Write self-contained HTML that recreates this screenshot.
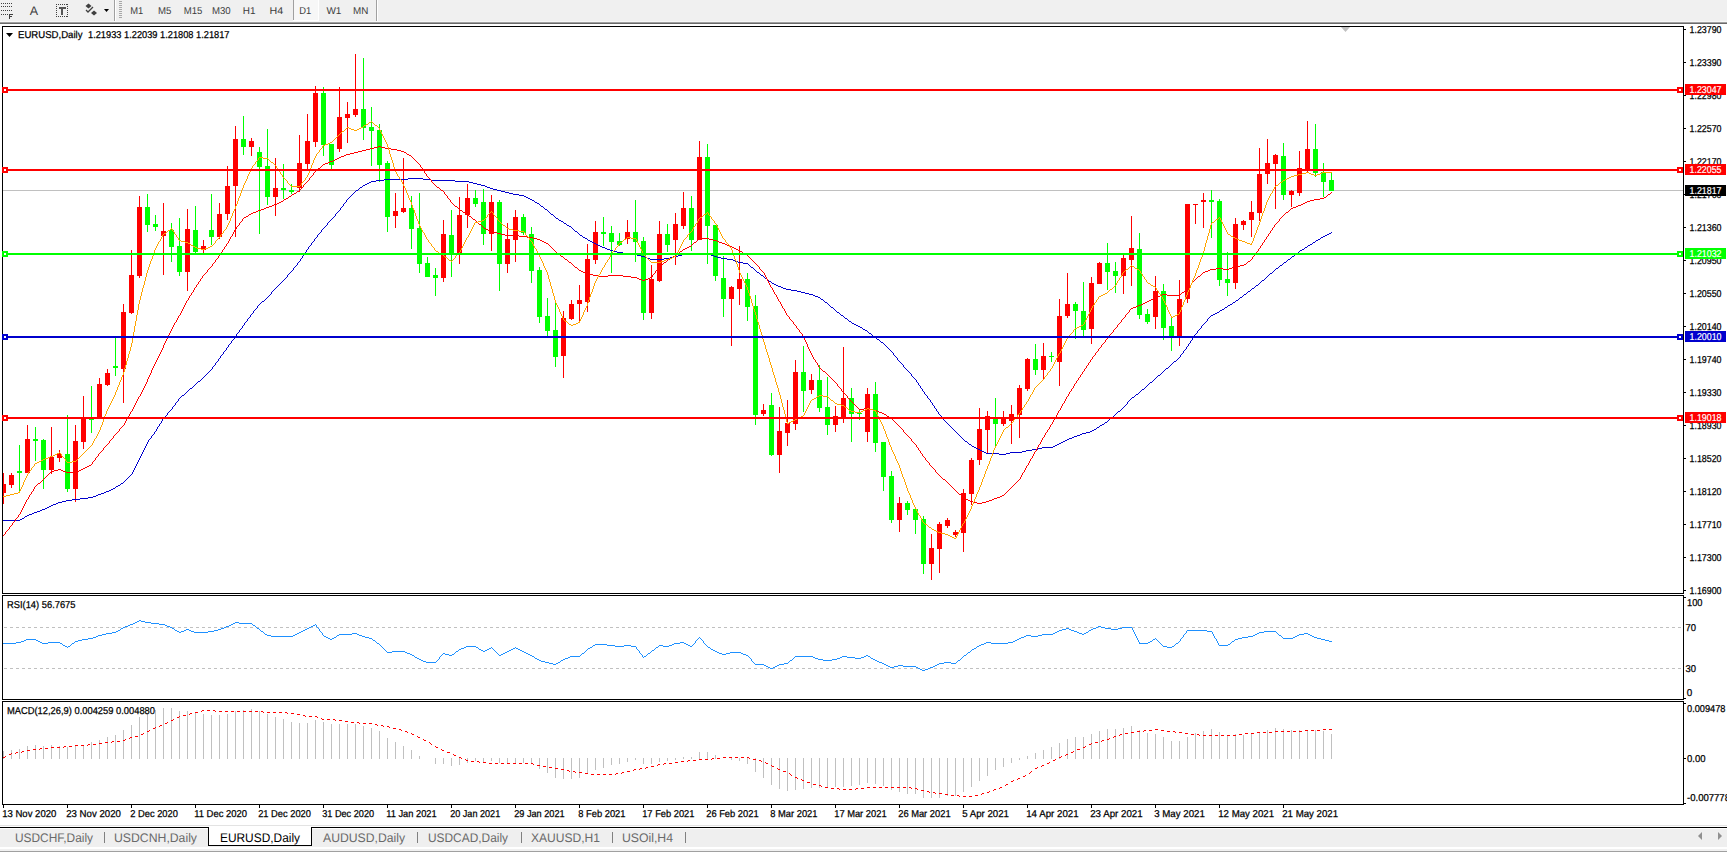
<!DOCTYPE html>
<html><head><meta charset="utf-8"><style>
html,body{margin:0;padding:0;background:#fff;}
body{width:1727px;height:852px;overflow:hidden;position:relative;}
svg{position:absolute;left:0;top:0;display:block;}
text{font-family:"Liberation Sans", sans-serif;text-rendering:geometricPrecision;}
</style></head><body>
<svg width="1727" height="852" viewBox="0 0 1727 852">
<rect x="0" y="0" width="1727" height="852" fill="#ffffff"/>
<rect x="0" y="0" width="1727" height="22" fill="#f0f0f0"/>
<rect x="0" y="21" width="1727" height="1" fill="#f7f7f7"/>
<rect x="0" y="22" width="1727" height="1" fill="#a0a0a0"/>
<rect x="0" y="23" width="1727" height="1" fill="#6a6a6a"/>
<rect x="1" y="3" width="1" height="1" fill="#404040"/>
<rect x="3" y="3" width="1" height="1" fill="#404040"/>
<rect x="5" y="3" width="1" height="1" fill="#404040"/>
<rect x="7" y="3" width="1" height="1" fill="#404040"/>
<rect x="9" y="3" width="1" height="1" fill="#404040"/>
<rect x="11" y="3" width="1" height="1" fill="#404040"/>
<rect x="1" y="6" width="1" height="1" fill="#404040"/>
<rect x="3" y="6" width="1" height="1" fill="#404040"/>
<rect x="5" y="6" width="1" height="1" fill="#404040"/>
<rect x="7" y="6" width="1" height="1" fill="#404040"/>
<rect x="9" y="6" width="1" height="1" fill="#404040"/>
<rect x="11" y="6" width="1" height="1" fill="#404040"/>
<rect x="1" y="10" width="1" height="1" fill="#404040"/>
<rect x="3" y="10" width="1" height="1" fill="#404040"/>
<rect x="5" y="10" width="1" height="1" fill="#404040"/>
<rect x="7" y="10" width="1" height="1" fill="#404040"/>
<rect x="9" y="10" width="1" height="1" fill="#404040"/>
<rect x="11" y="10" width="1" height="1" fill="#404040"/>
<rect x="1" y="14" width="1" height="1" fill="#404040"/>
<rect x="3" y="14" width="1" height="1" fill="#404040"/>
<rect x="5" y="14" width="1" height="1" fill="#404040"/>
<rect x="7" y="14" width="1" height="1" fill="#404040"/>
<rect x="9" y="14" width="1" height="5" fill="#404040"/>
<rect x="9" y="14" width="4" height="1" fill="#404040"/>
<rect x="9" y="16" width="3" height="1" fill="#404040"/>
<text x="33.8" y="15" font-size="12.5" fill="#404040" text-anchor="middle">A</text>
<rect x="56" y="4" width="1" height="1" fill="#404040"/>
<rect x="56" y="16" width="1" height="1" fill="#404040"/>
<rect x="58" y="4" width="1" height="1" fill="#404040"/>
<rect x="58" y="16" width="1" height="1" fill="#404040"/>
<rect x="60" y="4" width="1" height="1" fill="#404040"/>
<rect x="60" y="16" width="1" height="1" fill="#404040"/>
<rect x="62" y="4" width="1" height="1" fill="#404040"/>
<rect x="62" y="16" width="1" height="1" fill="#404040"/>
<rect x="64" y="4" width="1" height="1" fill="#404040"/>
<rect x="64" y="16" width="1" height="1" fill="#404040"/>
<rect x="66" y="4" width="1" height="1" fill="#404040"/>
<rect x="66" y="16" width="1" height="1" fill="#404040"/>
<rect x="56" y="4" width="1" height="1" fill="#404040"/>
<rect x="67" y="4" width="1" height="1" fill="#404040"/>
<rect x="56" y="6" width="1" height="1" fill="#404040"/>
<rect x="67" y="6" width="1" height="1" fill="#404040"/>
<rect x="56" y="8" width="1" height="1" fill="#404040"/>
<rect x="67" y="8" width="1" height="1" fill="#404040"/>
<rect x="56" y="10" width="1" height="1" fill="#404040"/>
<rect x="67" y="10" width="1" height="1" fill="#404040"/>
<rect x="56" y="12" width="1" height="1" fill="#404040"/>
<rect x="67" y="12" width="1" height="1" fill="#404040"/>
<rect x="56" y="14" width="1" height="1" fill="#404040"/>
<rect x="67" y="14" width="1" height="1" fill="#404040"/>
<rect x="56" y="16" width="1" height="1" fill="#404040"/>
<rect x="67" y="16" width="1" height="1" fill="#404040"/>
<rect x="59" y="7" width="7" height="2" fill="#555"/>
<rect x="61" y="7" width="2" height="8" fill="#555"/>
<path d="M85.5,6 L88.5,3.5 L91.5,6 L88.5,8.5 Z" fill="#404040"/>
<path d="M91,13 L94,10.5 L97,13 L94,15.5 Z" fill="#404040"/>
<path d="M86,10 L88,12 L93,7" stroke="#404040" stroke-width="1.3" fill="none"/>
<path d="M104,9 L109,9 L106.5,12 Z" fill="#000"/>
<rect x="114" y="0" width="1" height="21" fill="#a0a0a0"/>
<rect x="115" y="0" width="1" height="21" fill="#ffffff"/>
<rect x="119" y="1" width="3" height="1" fill="#a8a8a8"/>
<rect x="119" y="3" width="3" height="1" fill="#a8a8a8"/>
<rect x="119" y="5" width="3" height="1" fill="#a8a8a8"/>
<rect x="119" y="7" width="3" height="1" fill="#a8a8a8"/>
<rect x="119" y="9" width="3" height="1" fill="#a8a8a8"/>
<rect x="119" y="11" width="3" height="1" fill="#a8a8a8"/>
<rect x="119" y="13" width="3" height="1" fill="#a8a8a8"/>
<rect x="119" y="15" width="3" height="1" fill="#a8a8a8"/>
<rect x="119" y="17" width="3" height="1" fill="#a8a8a8"/>
<rect x="294" y="0" width="24" height="20" fill="#f7f7f7"/>
<rect x="293" y="0" width="1" height="20" fill="#a0a0a0"/>
<rect x="293" y="20" width="26" height="1" fill="#ffffff"/>
<rect x="318" y="0" width="1" height="21" fill="#ffffff"/>
<rect x="376" y="0" width="1" height="21" fill="#a0a0a0"/>
<rect x="377" y="0" width="1" height="21" fill="#ffffff"/>
<text x="130.20000000000002" y="14.1" font-size="10" fill="#3c3c3c" textLength="13.0" lengthAdjust="spacingAndGlyphs">M1</text>
<text x="158.1" y="14.1" font-size="10" fill="#3c3c3c" textLength="13.4" lengthAdjust="spacingAndGlyphs">M5</text>
<text x="183.70000000000002" y="14.1" font-size="10" fill="#3c3c3c" textLength="18.6" lengthAdjust="spacingAndGlyphs">M15</text>
<text x="212.0" y="14.1" font-size="10" fill="#3c3c3c" textLength="18.7" lengthAdjust="spacingAndGlyphs">M30</text>
<text x="242.8" y="14.1" font-size="10" fill="#3c3c3c" textLength="12.7" lengthAdjust="spacingAndGlyphs">H1</text>
<text x="269.59999999999997" y="14.1" font-size="10" fill="#3c3c3c" textLength="13.7" lengthAdjust="spacingAndGlyphs">H4</text>
<text x="299.2" y="14.1" font-size="10" fill="#3c3c3c" textLength="12.0" lengthAdjust="spacingAndGlyphs">D1</text>
<text x="326.4" y="14.1" font-size="10" fill="#3c3c3c" textLength="15.0" lengthAdjust="spacingAndGlyphs">W1</text>
<text x="353.0" y="14.1" font-size="10" fill="#3c3c3c" textLength="15.3" lengthAdjust="spacingAndGlyphs">MN</text>
<rect x="2" y="26" width="1682" height="1" fill="#000"/>
<rect x="2" y="593" width="1682" height="1" fill="#000"/>
<rect x="2" y="26" width="1" height="568" fill="#000"/>
<rect x="1683" y="26" width="1" height="568" fill="#000"/>
<rect x="2" y="595" width="1682" height="1" fill="#000"/>
<rect x="2" y="699" width="1682" height="1" fill="#000"/>
<rect x="2" y="595" width="1" height="105" fill="#000"/>
<rect x="1683" y="595" width="1" height="105" fill="#000"/>
<rect x="2" y="701" width="1682" height="1" fill="#000"/>
<rect x="2" y="804" width="1682" height="1" fill="#000"/>
<rect x="2" y="701" width="1" height="104" fill="#000"/>
<rect x="1683" y="701" width="1" height="104" fill="#000"/>
<defs><clipPath id="cm"><rect x="3" y="27" width="1680" height="566"/></clipPath><clipPath id="cr"><rect x="3" y="596" width="1680" height="103"/></clipPath><clipPath id="cd"><rect x="3" y="702" width="1680" height="102"/></clipPath></defs>
<g clip-path="url(#cm)">
<rect x="3" y="190" width="1680" height="1" fill="#c0c0c0"/>
<path d="M1341,27 L1350,27 L1345.5,32 Z" fill="#c0c0c0"/>
<g shape-rendering="crispEdges">
<rect x="3" y="473" width="1" height="31" fill="#ff0000"/>
<rect x="1" y="484" width="5" height="9" fill="#ff0000"/>
<rect x="11" y="473" width="1" height="15" fill="#ff0000"/>
<rect x="9" y="475" width="5" height="10" fill="#ff0000"/>
<rect x="19" y="445" width="1" height="46" fill="#00ff00"/>
<rect x="17" y="471" width="5" height="2" fill="#00ff00"/>
<rect x="27" y="425" width="1" height="48" fill="#ff0000"/>
<rect x="25" y="439" width="5" height="34" fill="#ff0000"/>
<rect x="35" y="427" width="1" height="34" fill="#00ff00"/>
<rect x="33" y="439" width="5" height="2" fill="#00ff00"/>
<rect x="43" y="439" width="1" height="50" fill="#00ff00"/>
<rect x="41" y="440" width="5" height="30" fill="#00ff00"/>
<rect x="51" y="427" width="1" height="47" fill="#ff0000"/>
<rect x="49" y="457" width="5" height="13" fill="#ff0000"/>
<rect x="59" y="450" width="1" height="12" fill="#ff0000"/>
<rect x="57" y="454" width="5" height="4" fill="#ff0000"/>
<rect x="67" y="415" width="1" height="77" fill="#00ff00"/>
<rect x="65" y="454" width="5" height="35" fill="#00ff00"/>
<rect x="75" y="425" width="1" height="77" fill="#ff0000"/>
<rect x="73" y="441" width="5" height="48" fill="#ff0000"/>
<rect x="83" y="396" width="1" height="53" fill="#ff0000"/>
<rect x="81" y="418" width="5" height="24" fill="#ff0000"/>
<rect x="91" y="386" width="1" height="47" fill="#00ff00"/>
<rect x="89" y="419" width="5" height="1" fill="#00ff00"/>
<rect x="99" y="378" width="1" height="40" fill="#ff0000"/>
<rect x="97" y="384" width="5" height="34" fill="#ff0000"/>
<rect x="107" y="369" width="1" height="17" fill="#ff0000"/>
<rect x="105" y="373" width="5" height="12" fill="#ff0000"/>
<rect x="115" y="337" width="1" height="39" fill="#00ff00"/>
<rect x="113" y="366" width="5" height="2" fill="#00ff00"/>
<rect x="123" y="304" width="1" height="99" fill="#ff0000"/>
<rect x="121" y="312" width="5" height="57" fill="#ff0000"/>
<rect x="131" y="250" width="1" height="64" fill="#ff0000"/>
<rect x="129" y="275" width="5" height="38" fill="#ff0000"/>
<rect x="139" y="196" width="1" height="82" fill="#ff0000"/>
<rect x="137" y="207" width="5" height="69" fill="#ff0000"/>
<rect x="147" y="194" width="1" height="38" fill="#00ff00"/>
<rect x="145" y="207" width="5" height="18" fill="#00ff00"/>
<rect x="155" y="215" width="1" height="16" fill="#00ff00"/>
<rect x="153" y="224" width="5" height="3" fill="#00ff00"/>
<rect x="163" y="203" width="1" height="72" fill="#ff0000"/>
<rect x="161" y="231" width="5" height="5" fill="#ff0000"/>
<rect x="171" y="223" width="1" height="39" fill="#00ff00"/>
<rect x="169" y="230" width="5" height="17" fill="#00ff00"/>
<rect x="179" y="218" width="1" height="58" fill="#00ff00"/>
<rect x="177" y="246" width="5" height="26" fill="#00ff00"/>
<rect x="187" y="209" width="1" height="82" fill="#ff0000"/>
<rect x="185" y="229" width="5" height="43" fill="#ff0000"/>
<rect x="195" y="206" width="1" height="47" fill="#00ff00"/>
<rect x="193" y="230" width="5" height="22" fill="#00ff00"/>
<rect x="203" y="240" width="1" height="13" fill="#ff0000"/>
<rect x="201" y="246" width="5" height="4" fill="#ff0000"/>
<rect x="211" y="194" width="1" height="51" fill="#00ff00"/>
<rect x="209" y="230" width="5" height="7" fill="#00ff00"/>
<rect x="219" y="203" width="1" height="36" fill="#ff0000"/>
<rect x="217" y="214" width="5" height="23" fill="#ff0000"/>
<rect x="227" y="166" width="1" height="54" fill="#ff0000"/>
<rect x="225" y="186" width="5" height="28" fill="#ff0000"/>
<rect x="235" y="126" width="1" height="111" fill="#ff0000"/>
<rect x="233" y="139" width="5" height="47" fill="#ff0000"/>
<rect x="243" y="116" width="1" height="39" fill="#00ff00"/>
<rect x="241" y="139" width="5" height="8" fill="#00ff00"/>
<rect x="251" y="138" width="1" height="18" fill="#ff0000"/>
<rect x="249" y="141" width="5" height="6" fill="#ff0000"/>
<rect x="259" y="147" width="1" height="87" fill="#00ff00"/>
<rect x="257" y="152" width="5" height="15" fill="#00ff00"/>
<rect x="267" y="129" width="1" height="76" fill="#00ff00"/>
<rect x="265" y="166" width="5" height="31" fill="#00ff00"/>
<rect x="275" y="158" width="1" height="58" fill="#ff0000"/>
<rect x="273" y="188" width="5" height="9" fill="#ff0000"/>
<rect x="283" y="164" width="1" height="35" fill="#00ff00"/>
<rect x="281" y="188" width="5" height="2" fill="#00ff00"/>
<rect x="291" y="184" width="1" height="10" fill="#00ff00"/>
<rect x="289" y="190" width="5" height="2" fill="#00ff00"/>
<rect x="299" y="135" width="1" height="57" fill="#ff0000"/>
<rect x="297" y="163" width="5" height="25" fill="#ff0000"/>
<rect x="307" y="114" width="1" height="56" fill="#ff0000"/>
<rect x="305" y="141" width="5" height="23" fill="#ff0000"/>
<rect x="315" y="86" width="1" height="61" fill="#ff0000"/>
<rect x="313" y="93" width="5" height="49" fill="#ff0000"/>
<rect x="323" y="87" width="1" height="69" fill="#00ff00"/>
<rect x="321" y="93" width="5" height="52" fill="#00ff00"/>
<rect x="331" y="144" width="1" height="25" fill="#00ff00"/>
<rect x="329" y="144" width="5" height="21" fill="#00ff00"/>
<rect x="339" y="87" width="1" height="65" fill="#ff0000"/>
<rect x="337" y="117" width="5" height="32" fill="#ff0000"/>
<rect x="347" y="102" width="1" height="41" fill="#ff0000"/>
<rect x="345" y="114" width="5" height="4" fill="#ff0000"/>
<rect x="355" y="54" width="1" height="63" fill="#ff0000"/>
<rect x="353" y="109" width="5" height="6" fill="#ff0000"/>
<rect x="363" y="58" width="1" height="82" fill="#00ff00"/>
<rect x="361" y="109" width="5" height="19" fill="#00ff00"/>
<rect x="371" y="107" width="1" height="59" fill="#00ff00"/>
<rect x="369" y="127" width="5" height="4" fill="#00ff00"/>
<rect x="379" y="124" width="1" height="58" fill="#00ff00"/>
<rect x="377" y="130" width="5" height="35" fill="#00ff00"/>
<rect x="387" y="161" width="1" height="71" fill="#00ff00"/>
<rect x="385" y="163" width="5" height="54" fill="#00ff00"/>
<rect x="395" y="193" width="1" height="35" fill="#ff0000"/>
<rect x="393" y="211" width="5" height="5" fill="#ff0000"/>
<rect x="403" y="158" width="1" height="55" fill="#ff0000"/>
<rect x="401" y="208" width="5" height="4" fill="#ff0000"/>
<rect x="411" y="196" width="1" height="53" fill="#00ff00"/>
<rect x="409" y="208" width="5" height="21" fill="#00ff00"/>
<rect x="419" y="193" width="1" height="80" fill="#00ff00"/>
<rect x="417" y="228" width="5" height="36" fill="#00ff00"/>
<rect x="427" y="257" width="1" height="20" fill="#00ff00"/>
<rect x="425" y="263" width="5" height="14" fill="#00ff00"/>
<rect x="435" y="268" width="1" height="28" fill="#00ff00"/>
<rect x="433" y="275" width="5" height="3" fill="#00ff00"/>
<rect x="443" y="220" width="1" height="62" fill="#ff0000"/>
<rect x="441" y="234" width="5" height="44" fill="#ff0000"/>
<rect x="451" y="210" width="1" height="67" fill="#00ff00"/>
<rect x="449" y="235" width="5" height="19" fill="#00ff00"/>
<rect x="459" y="197" width="1" height="67" fill="#ff0000"/>
<rect x="457" y="215" width="5" height="39" fill="#ff0000"/>
<rect x="467" y="184" width="1" height="44" fill="#ff0000"/>
<rect x="465" y="198" width="5" height="17" fill="#ff0000"/>
<rect x="475" y="190" width="1" height="17" fill="#00ff00"/>
<rect x="473" y="198" width="5" height="6" fill="#00ff00"/>
<rect x="483" y="189" width="1" height="56" fill="#00ff00"/>
<rect x="481" y="202" width="5" height="32" fill="#00ff00"/>
<rect x="491" y="195" width="1" height="56" fill="#ff0000"/>
<rect x="489" y="202" width="5" height="32" fill="#ff0000"/>
<rect x="499" y="200" width="1" height="91" fill="#00ff00"/>
<rect x="497" y="202" width="5" height="62" fill="#00ff00"/>
<rect x="507" y="223" width="1" height="50" fill="#ff0000"/>
<rect x="505" y="239" width="5" height="25" fill="#ff0000"/>
<rect x="515" y="210" width="1" height="52" fill="#ff0000"/>
<rect x="513" y="217" width="5" height="23" fill="#ff0000"/>
<rect x="523" y="214" width="1" height="21" fill="#00ff00"/>
<rect x="521" y="217" width="5" height="16" fill="#00ff00"/>
<rect x="531" y="227" width="1" height="56" fill="#00ff00"/>
<rect x="529" y="234" width="5" height="37" fill="#00ff00"/>
<rect x="539" y="267" width="1" height="56" fill="#00ff00"/>
<rect x="537" y="270" width="5" height="47" fill="#00ff00"/>
<rect x="547" y="298" width="1" height="38" fill="#00ff00"/>
<rect x="545" y="316" width="5" height="15" fill="#00ff00"/>
<rect x="555" y="303" width="1" height="64" fill="#00ff00"/>
<rect x="553" y="330" width="5" height="27" fill="#00ff00"/>
<rect x="563" y="311" width="1" height="67" fill="#ff0000"/>
<rect x="561" y="318" width="5" height="38" fill="#ff0000"/>
<rect x="571" y="300" width="1" height="20" fill="#ff0000"/>
<rect x="569" y="304" width="5" height="15" fill="#ff0000"/>
<rect x="579" y="285" width="1" height="37" fill="#ff0000"/>
<rect x="577" y="300" width="5" height="4" fill="#ff0000"/>
<rect x="587" y="244" width="1" height="68" fill="#ff0000"/>
<rect x="585" y="259" width="5" height="43" fill="#ff0000"/>
<rect x="595" y="221" width="1" height="43" fill="#ff0000"/>
<rect x="593" y="232" width="5" height="28" fill="#ff0000"/>
<rect x="603" y="217" width="1" height="29" fill="#00ff00"/>
<rect x="601" y="232" width="5" height="2" fill="#00ff00"/>
<rect x="611" y="226" width="1" height="47" fill="#00ff00"/>
<rect x="609" y="233" width="5" height="9" fill="#00ff00"/>
<rect x="619" y="233" width="1" height="13" fill="#00ff00"/>
<rect x="617" y="241" width="5" height="4" fill="#00ff00"/>
<rect x="627" y="220" width="1" height="24" fill="#ff0000"/>
<rect x="625" y="232" width="5" height="7" fill="#ff0000"/>
<rect x="635" y="200" width="1" height="62" fill="#00ff00"/>
<rect x="633" y="232" width="5" height="10" fill="#00ff00"/>
<rect x="643" y="237" width="1" height="83" fill="#00ff00"/>
<rect x="641" y="241" width="5" height="72" fill="#00ff00"/>
<rect x="651" y="265" width="1" height="54" fill="#ff0000"/>
<rect x="649" y="279" width="5" height="34" fill="#ff0000"/>
<rect x="659" y="221" width="1" height="61" fill="#ff0000"/>
<rect x="657" y="234" width="5" height="47" fill="#ff0000"/>
<rect x="667" y="224" width="1" height="28" fill="#00ff00"/>
<rect x="665" y="234" width="5" height="11" fill="#00ff00"/>
<rect x="675" y="213" width="1" height="52" fill="#ff0000"/>
<rect x="673" y="224" width="5" height="16" fill="#ff0000"/>
<rect x="683" y="192" width="1" height="37" fill="#ff0000"/>
<rect x="681" y="208" width="5" height="18" fill="#ff0000"/>
<rect x="691" y="196" width="1" height="55" fill="#00ff00"/>
<rect x="689" y="208" width="5" height="32" fill="#00ff00"/>
<rect x="699" y="141" width="1" height="99" fill="#ff0000"/>
<rect x="697" y="157" width="5" height="83" fill="#ff0000"/>
<rect x="707" y="144" width="1" height="120" fill="#00ff00"/>
<rect x="705" y="157" width="5" height="69" fill="#00ff00"/>
<rect x="715" y="225" width="1" height="56" fill="#00ff00"/>
<rect x="713" y="225" width="5" height="51" fill="#00ff00"/>
<rect x="723" y="256" width="1" height="61" fill="#00ff00"/>
<rect x="721" y="278" width="5" height="21" fill="#00ff00"/>
<rect x="731" y="286" width="1" height="60" fill="#ff0000"/>
<rect x="729" y="287" width="5" height="12" fill="#ff0000"/>
<rect x="739" y="246" width="1" height="59" fill="#ff0000"/>
<rect x="737" y="279" width="5" height="10" fill="#ff0000"/>
<rect x="747" y="273" width="1" height="48" fill="#00ff00"/>
<rect x="745" y="279" width="5" height="28" fill="#00ff00"/>
<rect x="755" y="295" width="1" height="130" fill="#00ff00"/>
<rect x="753" y="306" width="5" height="109" fill="#00ff00"/>
<rect x="763" y="404" width="1" height="12" fill="#ff0000"/>
<rect x="761" y="410" width="5" height="4" fill="#ff0000"/>
<rect x="771" y="393" width="1" height="63" fill="#00ff00"/>
<rect x="769" y="405" width="5" height="50" fill="#00ff00"/>
<rect x="779" y="407" width="1" height="66" fill="#ff0000"/>
<rect x="777" y="431" width="5" height="24" fill="#ff0000"/>
<rect x="787" y="400" width="1" height="46" fill="#ff0000"/>
<rect x="785" y="423" width="5" height="10" fill="#ff0000"/>
<rect x="795" y="360" width="1" height="70" fill="#ff0000"/>
<rect x="793" y="372" width="5" height="52" fill="#ff0000"/>
<rect x="803" y="346" width="1" height="66" fill="#00ff00"/>
<rect x="801" y="372" width="5" height="19" fill="#00ff00"/>
<rect x="811" y="374" width="1" height="20" fill="#ff0000"/>
<rect x="809" y="380" width="5" height="10" fill="#ff0000"/>
<rect x="819" y="365" width="1" height="47" fill="#00ff00"/>
<rect x="817" y="380" width="5" height="28" fill="#00ff00"/>
<rect x="827" y="377" width="1" height="58" fill="#00ff00"/>
<rect x="825" y="407" width="5" height="18" fill="#00ff00"/>
<rect x="835" y="406" width="1" height="26" fill="#ff0000"/>
<rect x="833" y="416" width="5" height="9" fill="#ff0000"/>
<rect x="843" y="347" width="1" height="76" fill="#ff0000"/>
<rect x="841" y="398" width="5" height="20" fill="#ff0000"/>
<rect x="851" y="388" width="1" height="54" fill="#00ff00"/>
<rect x="849" y="398" width="5" height="16" fill="#00ff00"/>
<rect x="859" y="410" width="1" height="10" fill="#00ff00"/>
<rect x="857" y="413" width="5" height="1" fill="#00ff00"/>
<rect x="867" y="388" width="1" height="54" fill="#ff0000"/>
<rect x="865" y="394" width="5" height="38" fill="#ff0000"/>
<rect x="875" y="382" width="1" height="70" fill="#00ff00"/>
<rect x="873" y="394" width="5" height="49" fill="#00ff00"/>
<rect x="883" y="442" width="1" height="49" fill="#00ff00"/>
<rect x="881" y="442" width="5" height="35" fill="#00ff00"/>
<rect x="891" y="471" width="1" height="52" fill="#00ff00"/>
<rect x="889" y="476" width="5" height="44" fill="#00ff00"/>
<rect x="899" y="497" width="1" height="35" fill="#ff0000"/>
<rect x="897" y="503" width="5" height="17" fill="#ff0000"/>
<rect x="907" y="501" width="1" height="14" fill="#00ff00"/>
<rect x="905" y="503" width="5" height="7" fill="#00ff00"/>
<rect x="915" y="508" width="1" height="26" fill="#00ff00"/>
<rect x="913" y="509" width="5" height="11" fill="#00ff00"/>
<rect x="923" y="516" width="1" height="58" fill="#00ff00"/>
<rect x="921" y="519" width="5" height="45" fill="#00ff00"/>
<rect x="931" y="534" width="1" height="46" fill="#ff0000"/>
<rect x="929" y="548" width="5" height="16" fill="#ff0000"/>
<rect x="939" y="522" width="1" height="51" fill="#ff0000"/>
<rect x="937" y="524" width="5" height="25" fill="#ff0000"/>
<rect x="947" y="518" width="1" height="10" fill="#ff0000"/>
<rect x="945" y="520" width="5" height="6" fill="#ff0000"/>
<rect x="955" y="530" width="1" height="7" fill="#ff0000"/>
<rect x="953" y="532" width="5" height="3" fill="#ff0000"/>
<rect x="963" y="489" width="1" height="63" fill="#ff0000"/>
<rect x="961" y="493" width="5" height="40" fill="#ff0000"/>
<rect x="971" y="458" width="1" height="47" fill="#ff0000"/>
<rect x="969" y="460" width="5" height="34" fill="#ff0000"/>
<rect x="979" y="408" width="1" height="57" fill="#ff0000"/>
<rect x="977" y="429" width="5" height="31" fill="#ff0000"/>
<rect x="987" y="411" width="1" height="43" fill="#ff0000"/>
<rect x="985" y="416" width="5" height="14" fill="#ff0000"/>
<rect x="995" y="398" width="1" height="48" fill="#00ff00"/>
<rect x="993" y="419" width="5" height="5" fill="#00ff00"/>
<rect x="1003" y="411" width="1" height="15" fill="#ff0000"/>
<rect x="1001" y="418" width="5" height="6" fill="#ff0000"/>
<rect x="1011" y="405" width="1" height="39" fill="#ff0000"/>
<rect x="1009" y="414" width="5" height="7" fill="#ff0000"/>
<rect x="1019" y="385" width="1" height="53" fill="#ff0000"/>
<rect x="1017" y="388" width="5" height="27" fill="#ff0000"/>
<rect x="1027" y="358" width="1" height="33" fill="#ff0000"/>
<rect x="1025" y="359" width="5" height="30" fill="#ff0000"/>
<rect x="1035" y="344" width="1" height="31" fill="#00ff00"/>
<rect x="1033" y="359" width="5" height="11" fill="#00ff00"/>
<rect x="1043" y="343" width="1" height="37" fill="#ff0000"/>
<rect x="1041" y="356" width="5" height="14" fill="#ff0000"/>
<rect x="1051" y="352" width="1" height="10" fill="#00ff00"/>
<rect x="1049" y="356" width="5" height="1" fill="#00ff00"/>
<rect x="1059" y="299" width="1" height="87" fill="#ff0000"/>
<rect x="1057" y="316" width="5" height="46" fill="#ff0000"/>
<rect x="1067" y="273" width="1" height="45" fill="#ff0000"/>
<rect x="1065" y="304" width="5" height="12" fill="#ff0000"/>
<rect x="1075" y="302" width="1" height="37" fill="#00ff00"/>
<rect x="1073" y="304" width="5" height="7" fill="#00ff00"/>
<rect x="1083" y="282" width="1" height="54" fill="#00ff00"/>
<rect x="1081" y="311" width="5" height="19" fill="#00ff00"/>
<rect x="1091" y="277" width="1" height="67" fill="#ff0000"/>
<rect x="1089" y="283" width="5" height="46" fill="#ff0000"/>
<rect x="1099" y="262" width="1" height="22" fill="#ff0000"/>
<rect x="1097" y="263" width="5" height="21" fill="#ff0000"/>
<rect x="1107" y="243" width="1" height="47" fill="#00ff00"/>
<rect x="1105" y="263" width="5" height="9" fill="#00ff00"/>
<rect x="1115" y="262" width="1" height="31" fill="#00ff00"/>
<rect x="1113" y="271" width="5" height="5" fill="#00ff00"/>
<rect x="1123" y="255" width="1" height="39" fill="#ff0000"/>
<rect x="1121" y="258" width="5" height="18" fill="#ff0000"/>
<rect x="1131" y="216" width="1" height="70" fill="#ff0000"/>
<rect x="1129" y="248" width="5" height="12" fill="#ff0000"/>
<rect x="1139" y="233" width="1" height="86" fill="#00ff00"/>
<rect x="1137" y="249" width="5" height="66" fill="#00ff00"/>
<rect x="1147" y="309" width="1" height="15" fill="#00ff00"/>
<rect x="1145" y="314" width="5" height="8" fill="#00ff00"/>
<rect x="1155" y="276" width="1" height="53" fill="#ff0000"/>
<rect x="1153" y="291" width="5" height="26" fill="#ff0000"/>
<rect x="1163" y="284" width="1" height="56" fill="#00ff00"/>
<rect x="1161" y="291" width="5" height="37" fill="#00ff00"/>
<rect x="1171" y="318" width="1" height="33" fill="#00ff00"/>
<rect x="1169" y="326" width="5" height="10" fill="#00ff00"/>
<rect x="1179" y="280" width="1" height="66" fill="#ff0000"/>
<rect x="1177" y="299" width="5" height="37" fill="#ff0000"/>
<rect x="1187" y="204" width="1" height="99" fill="#ff0000"/>
<rect x="1185" y="204" width="5" height="95" fill="#ff0000"/>
<rect x="1195" y="204" width="1" height="20" fill="#ff0000"/>
<rect x="1193" y="204" width="5" height="1" fill="#ff0000"/>
<rect x="1203" y="193" width="1" height="35" fill="#ff0000"/>
<rect x="1201" y="200" width="5" height="2" fill="#ff0000"/>
<rect x="1211" y="190" width="1" height="48" fill="#00ff00"/>
<rect x="1209" y="200" width="5" height="2" fill="#00ff00"/>
<rect x="1219" y="199" width="1" height="87" fill="#00ff00"/>
<rect x="1217" y="201" width="5" height="79" fill="#00ff00"/>
<rect x="1227" y="252" width="1" height="44" fill="#00ff00"/>
<rect x="1225" y="279" width="5" height="4" fill="#00ff00"/>
<rect x="1235" y="218" width="1" height="71" fill="#ff0000"/>
<rect x="1233" y="224" width="5" height="59" fill="#ff0000"/>
<rect x="1243" y="220" width="1" height="10" fill="#ff0000"/>
<rect x="1241" y="221" width="5" height="4" fill="#ff0000"/>
<rect x="1251" y="201" width="1" height="36" fill="#ff0000"/>
<rect x="1249" y="212" width="5" height="8" fill="#ff0000"/>
<rect x="1259" y="148" width="1" height="73" fill="#ff0000"/>
<rect x="1257" y="174" width="5" height="39" fill="#ff0000"/>
<rect x="1267" y="139" width="1" height="45" fill="#ff0000"/>
<rect x="1265" y="163" width="5" height="11" fill="#ff0000"/>
<rect x="1275" y="154" width="1" height="55" fill="#ff0000"/>
<rect x="1273" y="155" width="5" height="9" fill="#ff0000"/>
<rect x="1283" y="143" width="1" height="57" fill="#00ff00"/>
<rect x="1281" y="156" width="5" height="39" fill="#00ff00"/>
<rect x="1291" y="190" width="1" height="17" fill="#ff0000"/>
<rect x="1289" y="191" width="5" height="4" fill="#ff0000"/>
<rect x="1299" y="151" width="1" height="45" fill="#ff0000"/>
<rect x="1297" y="168" width="5" height="25" fill="#ff0000"/>
<rect x="1307" y="121" width="1" height="51" fill="#ff0000"/>
<rect x="1305" y="149" width="5" height="21" fill="#ff0000"/>
<rect x="1315" y="124" width="1" height="53" fill="#00ff00"/>
<rect x="1313" y="149" width="5" height="24" fill="#00ff00"/>
<rect x="1323" y="163" width="1" height="34" fill="#00ff00"/>
<rect x="1321" y="172" width="5" height="10" fill="#00ff00"/>
<rect x="1331" y="172" width="1" height="19" fill="#00ff00"/>
<rect x="1329" y="180" width="5" height="11" fill="#00ff00"/>
</g>
<path d="M408 178h15v1h-15zM384 179h24v1h-24zM423 179h8v1h-8zM376 180h8v1h-8zM431 180h24v1h-24zM371 181h5v1h-5zM455 181h14v1h-14zM369 182h2v1h-2zM469 182h4v1h-4zM367 183h2v1h-2zM473 183h4v1h-4zM365 184h2v1h-2zM477 184h4v1h-4zM363 185h2v1h-2zM481 185h4v1h-4zM362 186h1v1h-1zM485 186h2v1h-2zM360 187h2v1h-2zM487 187h3v1h-3zM359 188h1v1h-1zM490 188h3v1h-3zM358 189h1v1h-1zM493 189h4v1h-4zM356 190h2v1h-2zM497 190h4v1h-4zM355 191h1v1h-1zM501 191h4v1h-4zM354 192h1v1h-1zM505 192h4v1h-4zM353 193h1v1h-1zM509 193h4v1h-4zM352 194h1v1h-1zM513 194h6v1h-6zM351 195h1v1h-1zM519 195h5v1h-5zM350 196h1v1h-1zM524 196h2v1h-2zM349 197h1v1h-1zM526 197h2v1h-2zM348 198h1v1h-1zM528 198h2v1h-2zM347 199h1v1h-1zM530 199h2v1h-2zM532 200h2v1h-2zM346 200h1v2h-1zM534 201h1v1h-1zM345 202h1v1h-1zM535 202h2v1h-2zM344 203h1v1h-1zM537 203h2v1h-2zM539 204h1v1h-1zM343 204h1v2h-1zM540 205h1v1h-1zM342 206h1v1h-1zM541 206h2v1h-2zM341 207h1v1h-1zM543 207h1v1h-1zM544 208h1v1h-1zM340 208h1v2h-1zM545 209h2v1h-2zM339 210h1v1h-1zM547 210h1v1h-1zM338 211h1v1h-1zM548 211h1v1h-1zM337 212h1v1h-1zM549 212h1v1h-1zM336 213h1v1h-1zM550 213h1v1h-1zM551 214h2v1h-2zM335 214h1v2h-1zM553 215h1v1h-1zM334 216h1v1h-1zM554 216h1v1h-1zM333 217h1v1h-1zM555 217h1v1h-1zM332 218h1v1h-1zM556 218h2v1h-2zM331 219h1v1h-1zM558 219h1v1h-1zM330 220h1v1h-1zM559 220h2v1h-2zM329 221h1v1h-1zM561 221h2v1h-2zM328 222h1v1h-1zM563 222h1v1h-1zM564 223h2v1h-2zM327 223h1v2h-1zM566 224h1v1h-1zM326 225h1v1h-1zM567 225h2v1h-2zM325 226h1v1h-1zM569 226h2v1h-2zM324 227h1v1h-1zM571 227h1v1h-1zM323 228h1v1h-1zM572 228h1v1h-1zM322 229h1v1h-1zM573 229h1v1h-1zM574 230h1v1h-1zM321 230h1v2h-1zM575 231h2v1h-2zM320 232h1v1h-1zM577 232h1v1h-1zM1331 232h1v1h-1zM319 233h1v1h-1zM578 233h1v1h-1zM1329 233h2v1h-2zM318 234h1v1h-1zM579 234h1v1h-1zM1327 234h2v1h-2zM580 235h2v1h-2zM1325 235h2v1h-2zM317 235h1v2h-1zM582 236h1v1h-1zM1323 236h2v1h-2zM316 237h1v1h-1zM583 237h2v1h-2zM1321 237h2v1h-2zM315 238h1v1h-1zM585 238h2v1h-2zM1320 238h1v1h-1zM587 239h1v1h-1zM1318 239h2v1h-2zM314 239h1v2h-1zM588 240h2v1h-2zM1316 240h2v1h-2zM313 241h1v1h-1zM590 241h2v1h-2zM1315 241h1v1h-1zM312 242h1v1h-1zM592 242h2v1h-2zM1313 242h2v1h-2zM594 243h2v1h-2zM1312 243h1v1h-1zM311 243h1v2h-1zM596 244h2v1h-2zM1310 244h2v1h-2zM310 245h1v1h-1zM598 245h2v1h-2zM1308 245h2v1h-2zM309 246h1v1h-1zM600 246h2v1h-2zM1307 246h1v1h-1zM602 247h3v1h-3zM1305 247h2v1h-2zM308 247h1v2h-1zM605 248h2v1h-2zM1304 248h1v1h-1zM307 249h1v1h-1zM607 249h3v1h-3zM1302 249h2v1h-2zM610 250h3v1h-3zM1300 250h2v1h-2zM306 250h1v2h-1zM613 251h4v1h-4zM1299 251h1v1h-1zM305 252h1v1h-1zM617 252h6v1h-6zM1298 252h1v1h-1zM623 253h8v1h-8zM688 253h21v1h-21zM1296 253h2v1h-2zM304 253h1v2h-1zM631 254h6v1h-6zM682 254h6v1h-6zM709 254h2v1h-2zM1295 254h1v1h-1zM303 255h1v1h-1zM637 255h4v1h-4zM678 255h4v1h-4zM711 255h3v1h-3zM1294 255h1v1h-1zM641 256h4v1h-4zM674 256h4v1h-4zM714 256h3v1h-3zM1292 256h2v1h-2zM302 256h1v2h-1zM645 257h2v1h-2zM670 257h4v1h-4zM717 257h4v1h-4zM1291 257h1v1h-1zM301 258h1v1h-1zM647 258h3v1h-3zM664 258h6v1h-6zM721 258h6v1h-6zM1290 258h1v1h-1zM650 259h14v1h-14zM727 259h6v1h-6zM1288 259h2v1h-2zM300 259h1v2h-1zM733 260h2v1h-2zM1287 260h1v1h-1zM299 261h1v1h-1zM735 261h3v1h-3zM1286 261h1v1h-1zM298 262h1v1h-1zM738 262h5v1h-5zM1284 262h2v1h-2zM743 263h5v1h-5zM1283 263h1v1h-1zM297 263h1v2h-1zM748 264h1v1h-1zM1282 264h1v1h-1zM296 265h1v1h-1zM749 265h1v1h-1zM1280 265h2v1h-2zM295 266h1v1h-1zM750 266h1v1h-1zM1279 266h1v1h-1zM294 267h1v1h-1zM751 267h2v1h-2zM1278 267h1v1h-1zM753 268h1v1h-1zM1276 268h2v1h-2zM293 268h1v2h-1zM754 269h1v1h-1zM1275 269h1v1h-1zM292 270h1v1h-1zM755 270h1v1h-1zM1274 270h1v1h-1zM291 271h1v1h-1zM756 271h1v1h-1zM1273 271h1v1h-1zM290 272h1v1h-1zM757 272h2v1h-2zM1272 272h1v1h-1zM289 273h1v1h-1zM759 273h1v1h-1zM1270 273h2v1h-2zM288 274h1v1h-1zM760 274h1v1h-1zM1269 274h1v1h-1zM761 275h2v1h-2zM1268 275h1v1h-1zM287 275h1v2h-1zM763 276h1v1h-1zM1267 276h1v1h-1zM286 277h1v1h-1zM764 277h1v1h-1zM1266 277h1v1h-1zM285 278h1v1h-1zM765 278h2v1h-2zM1265 278h1v1h-1zM284 279h1v1h-1zM767 279h1v1h-1zM1264 279h1v1h-1zM283 280h1v1h-1zM768 280h1v1h-1zM1262 280h2v1h-2zM282 281h1v1h-1zM769 281h2v1h-2zM1261 281h1v1h-1zM281 282h1v1h-1zM771 282h1v1h-1zM1260 282h1v1h-1zM280 283h1v1h-1zM772 283h2v1h-2zM1259 283h1v1h-1zM279 284h1v1h-1zM774 284h2v1h-2zM1258 284h1v1h-1zM278 285h1v1h-1zM776 285h2v1h-2zM1256 285h2v1h-2zM277 286h1v1h-1zM778 286h3v1h-3zM1255 286h1v1h-1zM276 287h1v1h-1zM781 287h2v1h-2zM1254 287h1v1h-1zM275 288h1v1h-1zM783 288h3v1h-3zM1252 288h2v1h-2zM274 289h1v1h-1zM786 289h5v1h-5zM1251 289h1v1h-1zM273 290h1v1h-1zM791 290h6v1h-6zM1250 290h1v1h-1zM272 291h1v1h-1zM797 291h4v1h-4zM1248 291h2v1h-2zM801 292h4v1h-4zM1247 292h1v1h-1zM271 292h1v2h-1zM805 293h4v1h-4zM1246 293h1v1h-1zM270 294h1v1h-1zM809 294h4v1h-4zM1244 294h2v1h-2zM269 295h1v1h-1zM813 295h2v1h-2zM1243 295h1v1h-1zM268 296h1v1h-1zM815 296h3v1h-3zM1242 296h1v1h-1zM267 297h1v1h-1zM818 297h2v1h-2zM1240 297h2v1h-2zM266 298h1v1h-1zM820 298h1v1h-1zM1239 298h1v1h-1zM265 299h1v1h-1zM821 299h2v1h-2zM1238 299h1v1h-1zM264 300h1v1h-1zM823 300h1v1h-1zM1236 300h2v1h-2zM262 301h2v1h-2zM824 301h1v1h-1zM1235 301h1v1h-1zM261 302h1v1h-1zM825 302h2v1h-2zM1233 302h2v1h-2zM260 303h1v1h-1zM827 303h1v1h-1zM1232 303h1v1h-1zM259 304h1v1h-1zM828 304h1v1h-1zM1230 304h2v1h-2zM258 305h1v1h-1zM829 305h1v1h-1zM1228 305h2v1h-2zM830 306h1v1h-1zM1227 306h1v1h-1zM257 306h1v2h-1zM831 307h2v1h-2zM1225 307h2v1h-2zM256 308h1v1h-1zM833 308h1v1h-1zM1224 308h1v1h-1zM255 309h1v1h-1zM834 309h1v1h-1zM1222 309h2v1h-2zM254 310h1v1h-1zM835 310h1v1h-1zM1220 310h2v1h-2zM836 311h1v1h-1zM1219 311h1v1h-1zM253 311h1v2h-1zM837 312h2v1h-2zM1217 312h2v1h-2zM252 313h1v1h-1zM839 313h1v1h-1zM1215 313h2v1h-2zM251 314h1v1h-1zM840 314h1v1h-1zM1213 314h2v1h-2zM841 315h2v1h-2zM1211 315h2v1h-2zM250 315h1v2h-1zM843 316h1v1h-1zM1210 316h1v1h-1zM249 317h1v1h-1zM844 317h1v1h-1zM1209 317h1v1h-1zM248 318h1v1h-1zM845 318h2v1h-2zM1208 318h1v1h-1zM847 319h1v1h-1zM247 319h1v2h-1zM1207 319h1v2h-1zM848 320h1v1h-1zM246 321h1v1h-1zM849 321h2v1h-2zM1206 321h1v1h-1zM245 322h1v1h-1zM851 322h1v1h-1zM1205 322h1v1h-1zM852 323h2v1h-2zM1204 323h1v1h-1zM244 323h1v2h-1zM854 324h2v1h-2zM1203 324h1v1h-1zM243 325h1v1h-1zM856 325h2v1h-2zM1202 325h1v1h-1zM858 326h2v1h-2zM242 326h1v2h-1zM1201 326h1v2h-1zM860 327h2v1h-2zM241 328h1v1h-1zM862 328h1v1h-1zM1200 328h1v1h-1zM240 329h1v1h-1zM863 329h2v1h-2zM1199 329h1v1h-1zM865 330h2v1h-2zM1198 330h1v1h-1zM239 330h1v2h-1zM867 331h1v1h-1zM1197 331h1v2h-1zM238 332h1v1h-1zM868 332h1v1h-1zM237 333h1v1h-1zM869 333h2v1h-2zM1196 333h1v1h-1zM871 334h1v1h-1zM1195 334h1v1h-1zM236 334h1v2h-1zM872 335h1v1h-1zM1194 335h1v2h-1zM235 336h1v1h-1zM873 336h2v1h-2zM875 337h1v1h-1zM1193 337h1v1h-1zM234 337h1v2h-1zM876 338h1v1h-1zM1192 338h1v2h-1zM233 339h1v1h-1zM877 339h2v1h-2zM232 340h1v1h-1zM879 340h1v1h-1zM1191 340h1v1h-1zM880 341h1v1h-1zM231 341h1v2h-1zM1190 341h1v2h-1zM881 342h2v1h-2zM230 343h1v1h-1zM883 343h1v1h-1zM1189 343h1v1h-1zM229 344h1v1h-1zM884 344h1v1h-1zM1188 344h1v2h-1zM885 345h1v1h-1zM228 345h1v2h-1zM886 346h1v1h-1zM1187 346h1v1h-1zM227 347h1v1h-1zM887 347h1v1h-1zM1186 347h1v2h-1zM888 348h1v1h-1zM226 348h1v2h-1zM889 349h1v1h-1zM1185 349h1v1h-1zM225 350h1v1h-1zM890 350h1v1h-1zM1184 350h1v1h-1zM224 351h1v1h-1zM891 351h1v1h-1zM1183 351h1v2h-1zM892 352h1v1h-1zM223 352h1v2h-1zM1182 353h1v1h-1zM893 353h1v2h-1zM222 354h1v1h-1zM1181 354h1v1h-1zM221 355h1v1h-1zM894 355h1v1h-1zM1180 355h1v2h-1zM895 356h1v1h-1zM220 356h1v2h-1zM896 357h1v1h-1zM1179 357h1v1h-1zM219 358h1v1h-1zM1178 358h1v1h-1zM897 358h1v2h-1zM1177 359h1v1h-1zM218 359h1v2h-1zM898 360h1v1h-1zM1176 360h1v1h-1zM217 361h1v1h-1zM899 361h1v1h-1zM1174 361h2v1h-2zM216 362h1v1h-1zM900 362h1v1h-1zM1173 362h1v1h-1zM901 363h1v1h-1zM1172 363h1v1h-1zM215 363h1v2h-1zM902 364h1v1h-1zM1171 364h1v1h-1zM214 365h1v1h-1zM1170 365h1v1h-1zM903 365h1v2h-1zM213 366h1v1h-1zM1169 366h1v1h-1zM904 367h1v1h-1zM1168 367h1v1h-1zM212 367h1v2h-1zM905 368h1v1h-1zM1166 368h2v1h-2zM211 369h1v1h-1zM906 369h1v1h-1zM1165 369h1v1h-1zM210 370h1v1h-1zM907 370h1v1h-1zM1164 370h1v1h-1zM209 371h1v1h-1zM908 371h1v1h-1zM1163 371h1v1h-1zM208 372h1v1h-1zM909 372h1v1h-1zM1162 372h1v1h-1zM207 373h1v1h-1zM910 373h1v1h-1zM1161 373h1v1h-1zM206 374h1v1h-1zM1160 374h1v1h-1zM911 374h1v2h-1zM205 375h1v1h-1zM1158 375h2v1h-2zM204 376h1v1h-1zM912 376h1v1h-1zM1157 376h1v1h-1zM203 377h1v1h-1zM913 377h1v1h-1zM1156 377h1v1h-1zM202 378h1v1h-1zM914 378h1v1h-1zM1155 378h1v1h-1zM201 379h1v1h-1zM915 379h1v1h-1zM1154 379h1v1h-1zM200 380h1v1h-1zM1153 380h1v1h-1zM916 380h1v2h-1zM198 381h2v1h-2zM1152 381h1v1h-1zM197 382h1v1h-1zM917 382h1v1h-1zM1150 382h2v1h-2zM196 383h1v1h-1zM1149 383h1v1h-1zM918 383h1v2h-1zM195 384h1v1h-1zM1148 384h1v1h-1zM194 385h1v1h-1zM919 385h1v1h-1zM1147 385h1v1h-1zM193 386h1v1h-1zM1146 386h1v1h-1zM920 386h1v2h-1zM192 387h1v1h-1zM1145 387h1v1h-1zM190 388h2v1h-2zM921 388h1v1h-1zM1144 388h1v1h-1zM189 389h1v1h-1zM1142 389h2v1h-2zM922 389h1v2h-1zM188 390h1v1h-1zM1141 390h1v1h-1zM187 391h1v1h-1zM923 391h1v1h-1zM1140 391h1v1h-1zM186 392h1v1h-1zM1139 392h1v1h-1zM924 392h1v2h-1zM185 393h1v1h-1zM1138 393h1v1h-1zM184 394h1v1h-1zM925 394h1v1h-1zM1136 394h2v1h-2zM182 395h2v1h-2zM926 395h1v1h-1zM1135 395h1v1h-1zM181 396h1v1h-1zM1134 396h1v1h-1zM927 396h1v2h-1zM180 397h1v1h-1zM1132 397h2v1h-2zM179 398h1v1h-1zM928 398h1v1h-1zM1131 398h1v1h-1zM929 399h1v1h-1zM1130 399h1v1h-1zM178 399h1v2h-1zM1129 400h1v1h-1zM930 400h1v2h-1zM177 401h1v1h-1zM1128 401h1v1h-1zM176 402h1v1h-1zM931 402h1v1h-1zM1127 402h1v2h-1zM175 403h1v2h-1zM932 403h1v2h-1zM1126 404h1v1h-1zM174 405h1v1h-1zM933 405h1v1h-1zM1125 405h1v1h-1zM173 406h1v1h-1zM1124 406h1v1h-1zM934 406h1v2h-1zM1123 407h1v1h-1zM172 407h1v2h-1zM935 408h1v1h-1zM1122 408h1v1h-1zM171 409h1v1h-1zM1121 409h1v1h-1zM936 409h1v2h-1zM170 410h1v1h-1zM1120 410h1v1h-1zM169 411h1v1h-1zM937 411h1v1h-1zM1118 411h2v1h-2zM168 412h1v1h-1zM1117 412h1v1h-1zM938 412h1v2h-1zM1116 413h1v1h-1zM167 413h1v2h-1zM939 414h1v1h-1zM1115 414h1v1h-1zM166 415h1v1h-1zM940 415h1v1h-1zM1114 415h1v1h-1zM165 416h1v1h-1zM941 416h1v1h-1zM1113 416h1v1h-1zM164 417h1v1h-1zM942 417h1v1h-1zM1112 417h1v1h-1zM163 418h1v1h-1zM1110 418h2v1h-2zM943 418h1v2h-1zM1109 419h1v1h-1zM162 419h1v2h-1zM944 420h1v1h-1zM1108 420h1v1h-1zM945 421h1v1h-1zM1107 421h1v1h-1zM161 421h1v2h-1zM946 422h1v1h-1zM1105 422h2v1h-2zM160 423h1v1h-1zM947 423h1v1h-1zM1104 423h1v1h-1zM948 424h1v1h-1zM1102 424h2v1h-2zM159 424h1v2h-1zM949 425h1v1h-1zM1100 425h2v1h-2zM158 426h1v1h-1zM950 426h1v1h-1zM1099 426h1v1h-1zM951 427h1v1h-1zM1097 427h2v1h-2zM157 427h1v2h-1zM952 428h1v1h-1zM1096 428h1v1h-1zM953 429h1v1h-1zM1094 429h2v1h-2zM156 429h1v2h-1zM954 430h1v1h-1zM1092 430h2v1h-2zM155 431h1v1h-1zM955 431h1v1h-1zM1090 431h2v1h-2zM956 432h1v1h-1zM1086 432h4v1h-4zM154 432h1v2h-1zM957 433h1v1h-1zM1082 433h4v1h-4zM153 434h1v1h-1zM958 434h1v1h-1zM1080 434h2v1h-2zM152 435h1v1h-1zM959 435h1v1h-1zM1077 435h3v1h-3zM960 436h1v1h-1zM1074 436h3v1h-3zM151 436h1v2h-1zM961 437h1v1h-1zM1072 437h2v1h-2zM150 438h1v1h-1zM962 438h1v1h-1zM1069 438h3v1h-3zM149 439h1v1h-1zM963 439h1v1h-1zM1067 439h2v1h-2zM964 440h1v1h-1zM1065 440h2v1h-2zM148 440h1v2h-1zM965 441h2v1h-2zM1063 441h2v1h-2zM967 442h1v1h-1zM1061 442h2v1h-2zM147 442h1v2h-1zM968 443h1v1h-1zM1059 443h2v1h-2zM969 444h2v1h-2zM1057 444h2v1h-2zM146 444h1v2h-1zM971 445h1v1h-1zM1055 445h2v1h-2zM972 446h2v1h-2zM1053 446h2v1h-2zM145 446h1v2h-1zM974 447h2v1h-2zM1042 447h11v1h-11zM976 448h2v1h-2zM1038 448h4v1h-4zM144 448h1v2h-1zM978 449h2v1h-2zM1032 449h6v1h-6zM980 450h2v1h-2zM1026 450h6v1h-6zM143 450h1v2h-1zM982 451h2v1h-2zM1022 451h4v1h-4zM984 452h2v1h-2zM1010 452h12v1h-12zM142 452h1v2h-1zM986 453h13v1h-13zM1006 453h4v1h-4zM999 454h7v1h-7zM141 454h1v2h-1zM140 456h1v2h-1zM139 458h1v2h-1zM138 460h1v2h-1zM137 462h1v2h-1zM136 464h1v2h-1zM135 466h1v2h-1zM134 468h1v2h-1zM133 470h1v2h-1zM132 472h1v2h-1zM131 474h1v1h-1zM130 475h1v1h-1zM129 476h1v1h-1zM128 477h1v1h-1zM127 478h1v1h-1zM126 479h1v1h-1zM125 480h1v1h-1zM124 481h1v1h-1zM123 482h1v1h-1zM121 483h2v1h-2zM120 484h1v1h-1zM118 485h2v1h-2zM116 486h2v1h-2zM115 487h1v1h-1zM113 488h2v1h-2zM111 489h2v1h-2zM109 490h2v1h-2zM106 491h3v1h-3zM104 492h2v1h-2zM101 493h3v1h-3zM98 494h3v1h-3zM96 495h2v1h-2zM93 496h3v1h-3zM88 497h5v1h-5zM80 498h8v1h-8zM72 499h8v1h-8zM66 500h6v1h-6zM62 501h4v1h-4zM58 502h4v1h-4zM56 503h2v1h-2zM53 504h3v1h-3zM51 505h2v1h-2zM49 506h2v1h-2zM47 507h2v1h-2zM45 508h2v1h-2zM42 509h3v1h-3zM40 510h2v1h-2zM37 511h3v1h-3zM34 512h3v1h-3zM32 513h2v1h-2zM29 514h3v1h-3zM27 515h2v1h-2zM25 516h2v1h-2zM24 517h1v1h-1zM22 518h2v1h-2zM20 519h2v1h-2zM3 520h17v1h-17z" fill="#0000cd" shape-rendering="crispEdges"/>
<path d="M378 146h3v1h-3zM374 147h4v1h-4zM381 147h4v1h-4zM370 148h4v1h-4zM385 148h6v1h-6zM366 149h4v1h-4zM391 149h6v1h-6zM362 150h4v1h-4zM397 150h4v1h-4zM358 151h4v1h-4zM401 151h3v1h-3zM354 152h4v1h-4zM404 152h2v1h-2zM350 153h4v1h-4zM406 153h1v1h-1zM346 154h4v1h-4zM407 154h2v1h-2zM344 155h2v1h-2zM409 155h2v1h-2zM341 156h3v1h-3zM411 156h1v1h-1zM339 157h2v1h-2zM412 157h1v1h-1zM337 158h2v1h-2zM413 158h1v1h-1zM335 159h2v1h-2zM414 159h1v1h-1zM333 160h2v1h-2zM415 160h1v1h-1zM330 161h3v1h-3zM416 161h1v1h-1zM328 162h2v1h-2zM417 162h1v1h-1zM325 163h3v1h-3zM418 163h1v1h-1zM323 164h2v1h-2zM419 164h1v1h-1zM322 165h1v1h-1zM420 165h1v2h-1zM321 166h1v1h-1zM320 167h1v1h-1zM421 167h1v1h-1zM318 168h2v1h-2zM422 168h1v2h-1zM317 169h1v1h-1zM316 170h1v1h-1zM423 170h1v1h-1zM315 171h1v1h-1zM424 171h1v2h-1zM314 172h1v1h-1zM425 173h1v1h-1zM313 173h1v2h-1zM426 174h1v2h-1zM312 175h1v1h-1zM311 176h1v1h-1zM427 176h1v1h-1zM310 177h1v1h-1zM428 177h1v1h-1zM429 178h1v1h-1zM309 178h1v2h-1zM430 179h1v1h-1zM308 180h1v1h-1zM431 180h1v2h-1zM307 181h1v1h-1zM306 182h1v1h-1zM432 182h1v1h-1zM305 183h1v1h-1zM433 183h1v1h-1zM304 184h1v1h-1zM434 184h1v1h-1zM435 185h1v1h-1zM303 185h1v2h-1zM436 186h1v1h-1zM302 187h1v1h-1zM437 187h2v1h-2zM301 188h1v1h-1zM439 188h1v1h-1zM300 189h1v1h-1zM440 189h1v1h-1zM299 190h1v1h-1zM441 190h2v1h-2zM297 191h2v1h-2zM443 191h1v1h-1zM296 192h1v1h-1zM1331 192h1v1h-1zM444 192h1v2h-1zM294 193h2v1h-2zM1330 193h1v1h-1zM292 194h2v1h-2zM445 194h1v1h-1zM1328 194h2v1h-2zM291 195h1v1h-1zM446 195h1v1h-1zM1327 195h1v1h-1zM289 196h2v1h-2zM1326 196h1v1h-1zM447 196h1v2h-1zM288 197h1v1h-1zM1324 197h2v1h-2zM286 198h2v1h-2zM448 198h1v1h-1zM1320 198h4v1h-4zM284 199h2v1h-2zM449 199h1v1h-1zM1314 199h6v1h-6zM283 200h1v1h-1zM1310 200h4v1h-4zM450 200h1v2h-1zM281 201h2v1h-2zM1307 201h3v1h-3zM279 202h2v1h-2zM451 202h1v1h-1zM1305 202h2v1h-2zM277 203h2v1h-2zM452 203h1v1h-1zM1303 203h2v1h-2zM274 204h3v1h-3zM453 204h1v1h-1zM1301 204h2v1h-2zM272 205h2v1h-2zM454 205h1v1h-1zM1298 205h3v1h-3zM269 206h3v1h-3zM455 206h2v1h-2zM1296 206h2v1h-2zM266 207h3v1h-3zM457 207h1v1h-1zM1293 207h3v1h-3zM264 208h2v1h-2zM458 208h1v1h-1zM1291 208h2v1h-2zM261 209h3v1h-3zM459 209h1v1h-1zM1290 209h1v1h-1zM258 210h3v1h-3zM460 210h2v1h-2zM1289 210h1v1h-1zM256 211h2v1h-2zM462 211h1v1h-1zM1288 211h1v1h-1zM253 212h3v1h-3zM463 212h2v1h-2zM1286 212h2v1h-2zM251 213h2v1h-2zM465 213h2v1h-2zM1285 213h1v1h-1zM249 214h2v1h-2zM467 214h1v1h-1zM1284 214h1v1h-1zM248 215h1v1h-1zM468 215h1v1h-1zM1283 215h1v1h-1zM246 216h2v1h-2zM469 216h2v1h-2zM1282 216h1v1h-1zM244 217h2v1h-2zM471 217h1v1h-1zM1281 217h1v1h-1zM243 218h1v1h-1zM472 218h1v1h-1zM1280 218h1v1h-1zM473 219h2v1h-2zM242 219h1v2h-1zM1279 219h1v2h-1zM475 220h1v1h-1zM241 221h1v1h-1zM476 221h1v1h-1zM1278 221h1v1h-1zM240 222h1v1h-1zM477 222h1v1h-1zM1277 222h1v1h-1zM478 223h1v1h-1zM1276 223h1v1h-1zM239 223h1v2h-1zM479 224h2v1h-2zM1275 224h1v1h-1zM238 225h1v1h-1zM481 225h1v1h-1zM1274 225h1v2h-1zM237 226h1v1h-1zM482 226h1v1h-1zM483 227h1v1h-1zM1273 227h1v1h-1zM236 227h1v2h-1zM484 228h2v1h-2zM1272 228h1v2h-1zM235 229h1v1h-1zM486 229h2v1h-2zM488 230h2v1h-2zM1271 230h1v1h-1zM234 230h1v2h-1zM490 231h3v1h-3zM1270 231h1v2h-1zM493 232h4v1h-4zM233 232h1v2h-1zM497 233h4v1h-4zM1269 233h1v1h-1zM501 234h4v1h-4zM232 234h1v2h-1zM1268 234h1v2h-1zM505 235h14v1h-14zM231 236h1v1h-1zM519 236h8v1h-8zM1267 236h1v1h-1zM527 237h6v1h-6zM230 237h1v2h-1zM1266 237h1v2h-1zM533 238h4v1h-4zM699 238h10v1h-10zM537 239h3v1h-3zM698 239h1v1h-1zM709 239h4v1h-4zM1265 239h1v1h-1zM229 239h1v2h-1zM540 240h2v1h-2zM697 240h1v1h-1zM713 240h4v1h-4zM1264 240h1v2h-1zM542 241h2v1h-2zM696 241h1v1h-1zM717 241h2v1h-2zM228 241h1v2h-1zM544 242h2v1h-2zM694 242h2v1h-2zM719 242h3v1h-3zM1263 242h1v1h-1zM227 243h1v1h-1zM546 243h2v1h-2zM693 243h1v1h-1zM722 243h3v1h-3zM1262 243h1v2h-1zM548 244h1v1h-1zM692 244h1v1h-1zM725 244h2v1h-2zM226 244h1v2h-1zM549 245h1v1h-1zM691 245h1v1h-1zM727 245h3v1h-3zM1261 245h1v1h-1zM225 246h1v1h-1zM550 246h1v1h-1zM689 246h2v1h-2zM730 246h2v1h-2zM1260 246h1v2h-1zM551 247h1v1h-1zM687 247h2v1h-2zM732 247h2v1h-2zM224 247h1v2h-1zM552 248h1v1h-1zM685 248h2v1h-2zM734 248h2v1h-2zM1259 248h1v1h-1zM223 249h1v1h-1zM553 249h1v1h-1zM683 249h2v1h-2zM736 249h2v1h-2zM1258 249h1v2h-1zM554 250h1v1h-1zM682 250h1v1h-1zM738 250h2v1h-2zM222 250h1v2h-1zM555 251h1v1h-1zM680 251h2v1h-2zM740 251h2v1h-2zM1257 251h1v1h-1zM221 252h1v1h-1zM556 252h1v1h-1zM679 252h1v1h-1zM742 252h1v1h-1zM1256 252h1v1h-1zM557 253h2v1h-2zM678 253h1v1h-1zM743 253h2v1h-2zM220 253h1v2h-1zM1255 253h1v2h-1zM559 254h1v1h-1zM676 254h2v1h-2zM745 254h2v1h-2zM219 255h1v1h-1zM560 255h1v1h-1zM675 255h1v1h-1zM747 255h1v1h-1zM1254 255h1v1h-1zM561 256h2v1h-2zM673 256h2v1h-2zM748 256h1v1h-1zM1253 256h1v1h-1zM218 256h1v2h-1zM563 257h1v1h-1zM672 257h1v1h-1zM749 257h1v1h-1zM1252 257h1v2h-1zM217 258h1v1h-1zM564 258h1v1h-1zM670 258h2v1h-2zM750 258h1v1h-1zM216 259h1v1h-1zM565 259h2v1h-2zM668 259h2v1h-2zM751 259h1v1h-1zM1251 259h1v1h-1zM567 260h1v1h-1zM667 260h1v1h-1zM752 260h1v1h-1zM1250 260h1v1h-1zM215 260h1v2h-1zM568 261h1v1h-1zM666 261h1v1h-1zM753 261h1v1h-1zM1248 261h2v1h-2zM214 262h1v1h-1zM569 262h2v1h-2zM664 262h2v1h-2zM754 262h1v1h-1zM1247 262h1v1h-1zM213 263h1v1h-1zM571 263h1v1h-1zM663 263h1v1h-1zM755 263h1v1h-1zM1246 263h1v1h-1zM572 264h1v1h-1zM662 264h1v1h-1zM756 264h1v1h-1zM1244 264h2v1h-2zM212 264h1v2h-1zM573 265h1v1h-1zM660 265h2v1h-2zM757 265h1v1h-1zM1240 265h4v1h-4zM211 266h1v1h-1zM574 266h1v1h-1zM659 266h1v1h-1zM758 266h1v1h-1zM1234 266h6v1h-6zM210 267h1v1h-1zM575 267h2v1h-2zM1232 267h2v1h-2zM658 267h1v2h-1zM759 267h1v2h-1zM209 268h1v1h-1zM577 268h1v1h-1zM1216 268h7v1h-7zM1229 268h3v1h-3zM208 269h1v1h-1zM578 269h1v1h-1zM657 269h1v1h-1zM760 269h1v1h-1zM1210 269h6v1h-6zM1223 269h6v1h-6zM579 270h2v1h-2zM656 270h1v1h-1zM761 270h1v1h-1zM1208 270h2v1h-2zM207 270h1v2h-1zM581 271h2v1h-2zM762 271h1v1h-1zM1205 271h3v1h-3zM655 271h1v2h-1zM206 272h1v1h-1zM583 272h3v1h-3zM763 272h1v1h-1zM1203 272h2v1h-2zM205 273h1v1h-1zM586 273h3v1h-3zM654 273h1v1h-1zM1202 273h1v1h-1zM764 273h1v2h-1zM204 274h1v1h-1zM589 274h4v1h-4zM653 274h1v1h-1zM1201 274h1v1h-1zM203 275h1v1h-1zM593 275h6v1h-6zM608 275h15v1h-15zM1200 275h1v1h-1zM652 275h1v2h-1zM765 275h1v2h-1zM599 276h9v1h-9zM623 276h8v1h-8zM1198 276h2v1h-2zM202 276h1v2h-1zM631 277h6v1h-6zM650 277h2v1h-2zM1197 277h1v1h-1zM766 277h1v2h-1zM201 278h1v1h-1zM637 278h2v1h-2zM648 278h2v1h-2zM1196 278h1v1h-1zM639 279h3v1h-3zM645 279h3v1h-3zM1195 279h1v1h-1zM200 279h1v2h-1zM767 279h1v2h-1zM642 280h3v1h-3zM1194 280h1v1h-1zM199 281h1v1h-1zM1193 281h1v1h-1zM768 281h1v2h-1zM1192 282h1v1h-1zM198 282h1v2h-1zM769 283h1v2h-1zM1191 283h1v2h-1zM197 284h1v1h-1zM1190 285h1v1h-1zM196 285h1v2h-1zM770 285h1v2h-1zM1189 286h1v1h-1zM195 287h1v1h-1zM771 287h1v1h-1zM1188 287h1v1h-1zM1187 288h1v1h-1zM194 288h1v2h-1zM772 288h1v2h-1zM1186 289h1v1h-1zM1185 290h1v1h-1zM193 290h1v2h-1zM773 290h1v2h-1zM1184 291h1v1h-1zM192 292h1v1h-1zM1182 292h2v1h-2zM774 292h1v2h-1zM1181 293h1v1h-1zM191 293h1v2h-1zM775 294h1v1h-1zM1162 294h5v1h-5zM1180 294h1v1h-1zM190 295h1v1h-1zM1160 295h2v1h-2zM1167 295h13v1h-13zM776 295h1v2h-1zM1157 296h3v1h-3zM189 296h1v2h-1zM1155 297h2v1h-2zM777 297h1v2h-1zM1153 298h2v1h-2zM188 298h1v2h-1zM1151 299h2v1h-2zM778 299h1v2h-1zM187 300h1v1h-1zM1149 300h2v1h-2zM779 301h1v1h-1zM1147 301h2v1h-2zM186 301h1v2h-1zM1145 302h2v1h-2zM780 302h1v2h-1zM1143 303h2v1h-2zM185 303h1v2h-1zM1141 304h2v1h-2zM781 304h1v2h-1zM1138 305h3v1h-3zM184 305h1v2h-1zM1136 306h2v1h-2zM782 306h1v2h-1zM1133 307h3v1h-3zM183 307h1v2h-1zM783 308h1v1h-1zM1131 308h2v1h-2zM1130 309h1v1h-1zM182 309h1v2h-1zM784 309h1v2h-1zM1129 310h1v2h-1zM181 311h1v2h-1zM785 311h1v2h-1zM1128 312h1v1h-1zM1127 313h1v1h-1zM180 313h1v2h-1zM786 313h1v2h-1zM1126 314h1v1h-1zM179 315h1v1h-1zM787 315h1v1h-1zM1125 315h1v2h-1zM788 316h1v1h-1zM178 316h1v2h-1zM1124 317h1v1h-1zM789 317h1v2h-1zM1123 318h1v1h-1zM177 318h1v2h-1zM790 319h1v1h-1zM1122 319h1v1h-1zM791 320h1v1h-1zM176 320h1v2h-1zM1121 320h1v2h-1zM792 321h1v1h-1zM175 322h1v1h-1zM1120 322h1v1h-1zM793 322h1v2h-1zM1119 323h1v1h-1zM174 323h1v2h-1zM794 324h1v1h-1zM1118 324h1v1h-1zM795 325h1v1h-1zM173 325h1v2h-1zM1117 325h1v2h-1zM796 326h1v2h-1zM1116 327h1v1h-1zM172 327h1v2h-1zM797 328h1v1h-1zM1115 328h1v1h-1zM798 329h1v1h-1zM1114 329h1v1h-1zM171 329h1v2h-1zM799 330h1v2h-1zM1113 330h1v2h-1zM170 331h1v2h-1zM800 332h1v1h-1zM1112 332h1v1h-1zM801 333h1v1h-1zM1111 333h1v1h-1zM169 333h1v2h-1zM1110 334h1v1h-1zM802 334h1v2h-1zM168 335h1v2h-1zM1109 335h1v2h-1zM803 336h1v2h-1zM1108 337h1v1h-1zM167 337h1v2h-1zM1107 338h1v1h-1zM804 338h1v2h-1zM1106 339h1v1h-1zM166 339h1v2h-1zM805 340h1v2h-1zM1105 340h1v2h-1zM165 341h1v2h-1zM1104 342h1v1h-1zM806 342h1v2h-1zM1103 343h1v1h-1zM164 343h1v2h-1zM1102 344h1v1h-1zM807 344h1v3h-1zM1101 345h1v2h-1zM163 345h1v3h-1zM1100 347h1v1h-1zM808 347h1v2h-1zM1099 348h1v1h-1zM162 348h1v2h-1zM809 349h1v2h-1zM1098 349h1v2h-1zM161 350h1v2h-1zM1097 351h1v1h-1zM810 351h1v2h-1zM1096 352h1v1h-1zM160 352h1v2h-1zM811 353h1v2h-1zM1095 353h1v2h-1zM159 354h1v2h-1zM1094 355h1v1h-1zM812 355h1v2h-1zM1093 356h1v1h-1zM158 356h1v2h-1zM813 357h1v2h-1zM1092 357h1v2h-1zM157 358h1v2h-1zM814 359h1v1h-1zM1091 359h1v1h-1zM156 360h1v2h-1zM815 360h1v2h-1zM1090 360h1v2h-1zM816 362h1v1h-1zM1089 362h1v1h-1zM155 362h1v2h-1zM817 363h1v2h-1zM1088 363h1v2h-1zM154 364h1v2h-1zM1087 365h1v1h-1zM818 365h1v2h-1zM153 366h1v2h-1zM1086 366h1v2h-1zM819 367h1v1h-1zM820 368h1v1h-1zM1085 368h1v1h-1zM152 368h1v2h-1zM821 369h1v1h-1zM1084 369h1v2h-1zM822 370h1v1h-1zM151 370h1v3h-1zM823 371h2v1h-2zM1083 371h1v1h-1zM825 372h1v1h-1zM1082 372h1v2h-1zM826 373h1v1h-1zM150 373h1v2h-1zM827 374h1v1h-1zM1081 374h1v1h-1zM828 375h1v1h-1zM149 375h1v2h-1zM1080 375h1v2h-1zM829 376h1v1h-1zM830 377h1v1h-1zM1079 377h1v1h-1zM148 377h1v2h-1zM831 378h1v1h-1zM1078 378h1v2h-1zM832 379h1v1h-1zM147 379h1v3h-1zM833 380h1v1h-1zM1077 380h1v1h-1zM834 381h1v1h-1zM1076 381h1v2h-1zM835 382h1v1h-1zM146 382h1v2h-1zM836 383h1v1h-1zM1075 383h1v1h-1zM145 384h1v2h-1zM837 384h1v2h-1zM1074 384h1v2h-1zM838 386h1v1h-1zM144 386h1v2h-1zM1073 386h1v2h-1zM839 387h1v1h-1zM840 388h1v1h-1zM1072 388h1v1h-1zM143 388h1v2h-1zM841 389h1v2h-1zM1071 389h1v2h-1zM142 390h1v2h-1zM842 391h1v1h-1zM1070 391h1v1h-1zM843 392h1v1h-1zM141 392h1v2h-1zM1069 392h1v2h-1zM844 393h1v1h-1zM845 394h1v1h-1zM140 394h1v2h-1zM1068 394h1v2h-1zM846 395h1v1h-1zM139 396h1v1h-1zM1067 396h1v1h-1zM847 396h1v2h-1zM138 397h1v2h-1zM1066 397h1v2h-1zM848 398h1v1h-1zM849 399h1v1h-1zM137 399h1v2h-1zM1065 399h1v2h-1zM850 400h1v1h-1zM851 401h1v1h-1zM136 401h1v2h-1zM1064 401h1v2h-1zM852 402h1v1h-1zM853 403h1v1h-1zM1063 403h1v1h-1zM135 403h1v2h-1zM854 404h1v1h-1zM1062 404h1v2h-1zM855 405h1v1h-1zM134 405h1v2h-1zM856 406h1v1h-1zM1061 406h1v2h-1zM857 407h1v1h-1zM133 407h1v2h-1zM858 408h1v1h-1zM864 408h5v1h-5zM1060 408h1v2h-1zM859 409h5v1h-5zM869 409h4v1h-4zM132 409h1v2h-1zM873 410h4v1h-4zM1059 410h1v1h-1zM131 411h1v1h-1zM877 411h2v1h-2zM1058 411h1v2h-1zM879 412h3v1h-3zM130 412h1v2h-1zM882 413h2v1h-2zM1057 413h1v2h-1zM884 414h2v1h-2zM129 414h1v2h-1zM886 415h1v1h-1zM1056 415h1v2h-1zM887 416h2v1h-2zM128 416h1v2h-1zM889 417h2v1h-2zM1055 417h1v1h-1zM127 418h1v1h-1zM891 418h1v1h-1zM1054 418h1v2h-1zM892 419h1v1h-1zM126 419h1v2h-1zM893 420h1v1h-1zM1053 420h1v2h-1zM894 421h1v1h-1zM125 421h1v2h-1zM895 422h1v1h-1zM1052 422h1v2h-1zM896 423h1v1h-1zM124 423h1v2h-1zM897 424h1v1h-1zM1051 424h1v1h-1zM123 425h1v1h-1zM898 425h1v1h-1zM1050 425h1v2h-1zM122 426h1v1h-1zM899 426h1v1h-1zM121 427h1v1h-1zM900 427h1v1h-1zM1049 427h1v2h-1zM120 428h1v1h-1zM901 428h1v1h-1zM902 429h1v1h-1zM1048 429h1v1h-1zM119 429h1v2h-1zM903 430h1v2h-1zM1047 430h1v2h-1zM118 431h1v1h-1zM117 432h1v1h-1zM904 432h1v1h-1zM1046 432h1v1h-1zM116 433h1v1h-1zM905 433h1v1h-1zM1045 433h1v2h-1zM115 434h1v1h-1zM906 434h1v1h-1zM114 435h1v1h-1zM907 435h1v1h-1zM1044 435h1v2h-1zM908 436h1v1h-1zM113 436h1v2h-1zM909 437h1v1h-1zM1043 437h1v1h-1zM112 438h1v1h-1zM910 438h1v1h-1zM1042 438h1v2h-1zM111 439h1v1h-1zM911 439h1v2h-1zM110 440h1v1h-1zM1041 440h1v2h-1zM912 441h1v1h-1zM109 441h1v2h-1zM913 442h1v1h-1zM1040 442h1v2h-1zM108 443h1v1h-1zM914 443h1v1h-1zM107 444h1v1h-1zM915 444h1v1h-1zM1039 444h1v1h-1zM106 445h1v1h-1zM916 445h1v2h-1zM1038 445h1v2h-1zM105 446h1v1h-1zM104 447h1v1h-1zM917 447h1v1h-1zM1037 447h1v2h-1zM103 448h1v2h-1zM918 448h1v2h-1zM1036 449h1v2h-1zM102 450h1v1h-1zM919 450h1v1h-1zM101 451h1v1h-1zM1035 451h1v1h-1zM920 451h1v2h-1zM100 452h1v1h-1zM1034 452h1v2h-1zM99 453h1v1h-1zM921 453h1v1h-1zM98 454h1v2h-1zM922 454h1v2h-1zM1033 454h1v2h-1zM97 456h1v1h-1zM923 456h1v1h-1zM1032 456h1v2h-1zM96 457h1v1h-1zM924 457h1v1h-1zM1031 458h1v1h-1zM95 458h1v2h-1zM925 458h1v2h-1zM1030 459h1v2h-1zM94 460h1v1h-1zM926 460h1v1h-1zM93 461h1v1h-1zM927 461h1v1h-1zM1029 461h1v2h-1zM928 462h1v1h-1zM92 462h1v2h-1zM929 463h1v2h-1zM1028 463h1v2h-1zM91 464h1v1h-1zM89 465h2v1h-2zM930 465h1v1h-1zM1027 465h1v1h-1zM87 466h2v1h-2zM931 466h1v1h-1zM1026 466h1v2h-1zM85 467h2v1h-2zM932 467h1v1h-1zM83 468h2v1h-2zM933 468h1v1h-1zM1025 468h1v2h-1zM58 469h3v1h-3zM81 469h2v1h-2zM934 469h1v1h-1zM54 470h4v1h-4zM61 470h2v1h-2zM79 470h2v1h-2zM935 470h1v2h-1zM1024 470h1v2h-1zM51 471h3v1h-3zM63 471h3v1h-3zM77 471h2v1h-2zM50 472h1v1h-1zM66 472h11v1h-11zM936 472h1v1h-1zM1023 472h1v1h-1zM49 473h1v1h-1zM937 473h1v1h-1zM1022 473h1v2h-1zM48 474h1v1h-1zM938 474h1v1h-1zM47 475h1v1h-1zM939 475h1v1h-1zM1021 475h1v2h-1zM46 476h1v1h-1zM940 476h1v1h-1zM45 477h1v1h-1zM941 477h1v1h-1zM1020 477h1v2h-1zM44 478h1v1h-1zM942 478h1v1h-1zM43 479h1v1h-1zM943 479h2v1h-2zM1019 479h1v1h-1zM42 480h1v1h-1zM945 480h1v1h-1zM1018 480h1v1h-1zM41 481h1v1h-1zM946 481h1v1h-1zM1017 481h1v1h-1zM40 482h1v1h-1zM947 482h1v1h-1zM1016 482h1v1h-1zM38 483h2v1h-2zM948 483h1v1h-1zM1015 483h1v1h-1zM37 484h1v1h-1zM949 484h1v1h-1zM1014 484h1v1h-1zM36 485h1v1h-1zM950 485h1v1h-1zM1013 485h1v1h-1zM35 486h1v1h-1zM951 486h1v1h-1zM1012 486h1v1h-1zM952 487h1v1h-1zM1011 487h1v1h-1zM34 487h1v2h-1zM953 488h1v1h-1zM1010 488h1v1h-1zM954 489h1v1h-1zM1009 489h1v1h-1zM33 489h1v2h-1zM955 490h1v1h-1zM1008 490h1v1h-1zM32 491h1v1h-1zM956 491h1v1h-1zM1007 491h1v1h-1zM957 492h1v1h-1zM1006 492h1v1h-1zM31 492h1v2h-1zM958 493h1v1h-1zM1005 493h1v1h-1zM30 494h1v1h-1zM959 494h2v1h-2zM1004 494h1v1h-1zM961 495h1v1h-1zM1002 495h2v1h-2zM29 495h1v2h-1zM962 496h1v1h-1zM1000 496h2v1h-2zM963 497h1v1h-1zM997 497h3v1h-3zM28 497h1v2h-1zM964 498h2v1h-2zM994 498h3v1h-3zM27 499h1v1h-1zM966 499h2v1h-2zM992 499h2v1h-2zM968 500h2v1h-2zM989 500h3v1h-3zM26 500h1v2h-1zM970 501h3v1h-3zM986 501h3v1h-3zM973 502h4v1h-4zM982 502h4v1h-4zM25 502h1v2h-1zM977 503h5v1h-5zM24 504h1v2h-1zM23 506h1v2h-1zM22 508h1v2h-1zM21 510h1v2h-1zM20 512h1v2h-1zM19 514h1v1h-1zM18 515h1v2h-1zM17 517h1v1h-1zM16 518h1v1h-1zM15 519h1v2h-1zM14 521h1v1h-1zM13 522h1v1h-1zM12 523h1v2h-1zM11 525h1v1h-1zM10 526h1v1h-1zM9 527h1v2h-1zM8 529h1v1h-1zM7 530h1v1h-1zM6 531h1v1h-1zM5 532h1v2h-1zM4 534h1v1h-1zM3 535h1v1h-1z" fill="#ff0000" shape-rendering="crispEdges"/>
<path d="M371 121h1v1h-1zM369 122h2v1h-2zM372 122h1v1h-1zM368 123h1v1h-1zM373 123h1v1h-1zM366 124h2v1h-2zM374 124h1v1h-1zM364 125h2v1h-2zM375 125h2v1h-2zM363 126h1v1h-1zM377 126h1v1h-1zM347 127h2v1h-2zM361 127h2v1h-2zM378 127h1v1h-1zM346 128h1v1h-1zM349 128h2v1h-2zM359 128h2v1h-2zM379 128h1v2h-1zM345 129h1v1h-1zM351 129h3v1h-3zM357 129h2v1h-2zM344 130h1v1h-1zM354 130h3v1h-3zM380 130h1v2h-1zM342 131h2v1h-2zM341 132h1v1h-1zM381 132h1v2h-1zM340 133h1v1h-1zM339 134h1v1h-1zM382 134h1v2h-1zM338 135h1v1h-1zM337 136h1v1h-1zM383 136h1v2h-1zM336 137h1v1h-1zM335 138h1v1h-1zM384 138h1v2h-1zM334 139h1v1h-1zM333 140h1v1h-1zM385 140h1v2h-1zM332 141h1v1h-1zM330 142h2v1h-2zM386 142h1v2h-1zM328 143h2v1h-2zM325 144h3v1h-3zM387 144h1v3h-1zM323 145h2v1h-2zM322 146h1v2h-1zM388 147h1v3h-1zM321 148h1v1h-1zM320 149h1v1h-1zM319 150h1v2h-1zM389 150h1v4h-1zM318 152h1v1h-1zM317 153h1v1h-1zM316 154h1v2h-1zM390 154h1v3h-1zM315 156h1v2h-1zM259 157h4v1h-4zM391 157h1v3h-1zM263 158h5v1h-5zM258 158h1v2h-1zM314 158h1v2h-1zM268 159h1v1h-1zM257 160h1v1h-1zM269 160h1v1h-1zM313 160h1v3h-1zM392 160h1v3h-1zM256 161h1v1h-1zM270 161h1v1h-1zM271 162h2v1h-2zM255 162h1v2h-1zM273 163h1v1h-1zM312 163h1v2h-1zM393 163h1v4h-1zM254 164h1v1h-1zM274 164h1v1h-1zM253 165h1v1h-1zM275 165h1v1h-1zM311 165h1v3h-1zM252 166h1v2h-1zM276 166h1v2h-1zM394 167h1v3h-1zM277 168h1v1h-1zM251 168h1v2h-1zM310 168h1v2h-1zM278 169h1v2h-1zM250 170h1v2h-1zM395 170h1v2h-1zM309 170h1v3h-1zM279 171h1v1h-1zM1306 172h3v1h-3zM1322 172h10v1h-10zM249 172h1v2h-1zM280 172h1v2h-1zM396 172h1v2h-1zM1302 173h4v1h-4zM1309 173h2v1h-2zM1320 173h2v1h-2zM308 173h1v2h-1zM281 174h1v1h-1zM1298 174h4v1h-4zM1311 174h3v1h-3zM1317 174h3v1h-3zM248 174h1v2h-1zM397 174h1v2h-1zM1294 175h4v1h-4zM1314 175h3v1h-3zM282 175h1v2h-1zM307 175h1v2h-1zM398 176h1v1h-1zM1291 176h3v1h-3zM247 176h1v3h-1zM283 177h1v1h-1zM306 177h1v1h-1zM1289 177h2v1h-2zM399 177h1v2h-1zM284 178h1v1h-1zM1287 178h2v1h-2zM305 178h1v2h-1zM285 179h1v1h-1zM400 179h1v1h-1zM1285 179h2v1h-2zM246 179h1v2h-1zM286 180h1v1h-1zM304 180h1v1h-1zM1283 180h2v1h-2zM401 180h1v2h-1zM303 181h1v1h-1zM1282 181h1v1h-1zM245 181h1v2h-1zM287 181h1v2h-1zM302 182h1v1h-1zM1280 182h2v1h-2zM402 182h1v2h-1zM288 183h1v1h-1zM1279 183h1v1h-1zM244 183h1v2h-1zM301 183h1v2h-1zM289 184h1v1h-1zM1278 184h1v1h-1zM403 184h1v2h-1zM290 185h1v1h-1zM300 185h1v1h-1zM1276 185h2v1h-2zM243 185h1v3h-1zM291 186h9v1h-9zM1275 186h1v1h-1zM404 186h1v2h-1zM1274 187h1v2h-1zM242 188h1v2h-1zM405 188h1v2h-1zM1273 189h1v2h-1zM241 190h1v3h-1zM406 190h1v3h-1zM1272 191h1v2h-1zM1271 193h1v1h-1zM407 193h1v2h-1zM240 193h1v3h-1zM1270 194h1v2h-1zM408 195h1v3h-1zM239 196h1v2h-1zM1269 196h1v2h-1zM409 198h1v2h-1zM1268 198h1v2h-1zM238 198h1v3h-1zM410 200h1v2h-1zM1267 200h1v2h-1zM237 201h1v3h-1zM411 202h1v3h-1zM1266 202h1v3h-1zM236 204h1v2h-1zM412 205h1v3h-1zM1265 205h1v3h-1zM235 206h1v3h-1zM413 208h1v2h-1zM1264 208h1v3h-1zM234 209h1v2h-1zM414 210h1v3h-1zM491 211h1v1h-1zM233 211h1v2h-1zM1263 211h1v2h-1zM490 212h1v1h-1zM492 212h1v1h-1zM707 212h1v1h-1zM489 213h1v1h-1zM706 213h1v1h-1zM493 213h1v2h-1zM708 213h1v2h-1zM232 213h1v3h-1zM415 213h1v3h-1zM1262 213h1v3h-1zM488 214h1v1h-1zM704 214h2v1h-2zM494 215h1v1h-1zM703 215h1v1h-1zM709 215h1v1h-1zM487 215h1v2h-1zM495 216h1v1h-1zM702 216h1v1h-1zM710 216h1v1h-1zM231 216h1v2h-1zM416 216h1v3h-1zM1261 216h1v3h-1zM486 217h1v1h-1zM496 217h1v1h-1zM700 217h2v1h-2zM1219 217h1v1h-1zM711 217h1v2h-1zM485 218h1v1h-1zM699 218h1v1h-1zM1218 218h1v1h-1zM497 218h1v2h-1zM1220 218h1v2h-1zM230 218h1v3h-1zM484 219h1v1h-1zM712 219h1v1h-1zM1216 219h2v1h-2zM417 219h1v2h-1zM698 219h1v2h-1zM1260 219h1v3h-1zM482 220h2v1h-2zM498 220h1v1h-1zM713 220h1v1h-1zM1215 220h1v1h-1zM1221 220h1v2h-1zM478 221h4v1h-4zM499 221h1v1h-1zM1214 221h1v1h-1zM229 221h1v2h-1zM697 221h1v2h-1zM714 221h1v2h-1zM418 221h1v3h-1zM475 222h3v1h-3zM500 222h1v1h-1zM1212 222h2v1h-2zM1222 222h1v2h-1zM1259 222h1v3h-1zM501 223h1v1h-1zM696 223h1v1h-1zM715 223h1v1h-1zM228 223h1v2h-1zM474 223h1v2h-1zM1211 223h1v2h-1zM502 224h1v1h-1zM419 224h1v2h-1zM695 224h1v2h-1zM716 224h1v2h-1zM1223 224h1v2h-1zM503 225h2v1h-2zM227 225h1v2h-1zM473 225h1v2h-1zM1258 225h1v2h-1zM1210 225h1v4h-1zM505 226h1v1h-1zM694 226h1v1h-1zM420 226h1v2h-1zM717 226h1v2h-1zM1224 226h1v2h-1zM506 227h1v1h-1zM226 227h1v2h-1zM472 227h1v2h-1zM693 227h1v2h-1zM1257 227h1v3h-1zM171 228h1v1h-1zM507 228h2v1h-2zM421 228h1v2h-1zM718 228h1v2h-1zM1225 228h1v2h-1zM170 229h1v1h-1zM225 229h1v1h-1zM509 229h4v1h-4zM172 229h1v2h-1zM471 229h1v2h-1zM692 229h1v2h-1zM1209 229h1v4h-1zM168 230h2v1h-2zM224 230h1v1h-1zM513 230h6v1h-6zM422 230h1v2h-1zM719 230h1v2h-1zM1226 230h1v2h-1zM1256 230h1v3h-1zM167 231h1v1h-1zM173 231h1v1h-1zM519 231h5v1h-5zM691 231h1v1h-1zM223 231h1v2h-1zM470 231h1v2h-1zM166 232h1v1h-1zM423 232h1v1h-1zM524 232h1v1h-1zM690 232h1v1h-1zM174 232h1v2h-1zM720 232h1v2h-1zM1227 232h1v2h-1zM164 233h2v1h-2zM222 233h1v1h-1zM689 233h1v1h-1zM424 233h1v2h-1zM469 233h1v2h-1zM525 233h1v2h-1zM1255 233h1v2h-1zM1208 233h1v3h-1zM163 234h1v1h-1zM175 234h1v1h-1zM221 234h1v1h-1zM688 234h1v1h-1zM1228 234h2v1h-2zM721 234h1v2h-1zM526 235h1v1h-1zM1230 235h1v1h-1zM162 235h1v2h-1zM176 235h1v2h-1zM220 235h1v2h-1zM425 235h1v2h-1zM468 235h1v2h-1zM687 235h1v2h-1zM1254 235h1v3h-1zM527 236h1v1h-1zM1231 236h2v1h-2zM722 236h1v2h-1zM1207 236h1v4h-1zM177 237h1v1h-1zM219 237h1v1h-1zM467 237h1v1h-1zM528 237h1v1h-1zM627 237h4v1h-4zM686 237h1v1h-1zM1233 237h2v1h-2zM161 237h1v2h-1zM426 237h1v2h-1zM218 238h1v1h-1zM626 238h1v1h-1zM631 238h5v1h-5zM685 238h1v1h-1zM723 238h1v1h-1zM1235 238h2v1h-2zM178 238h1v2h-1zM466 238h1v2h-1zM529 238h1v2h-1zM1253 238h1v3h-1zM217 239h1v1h-1zM427 239h1v1h-1zM624 239h2v1h-2zM684 239h1v1h-1zM724 239h1v1h-1zM1237 239h2v1h-2zM160 239h1v2h-1zM636 239h1v2h-1zM179 240h2v1h-2zM216 240h1v1h-1zM530 240h1v1h-1zM623 240h1v1h-1zM1239 240h3v1h-3zM428 240h1v2h-1zM465 240h1v2h-1zM683 240h1v2h-1zM725 240h1v2h-1zM1206 240h1v3h-1zM159 241h1v1h-1zM181 241h4v1h-4zM531 241h1v1h-1zM622 241h1v1h-1zM1242 241h3v1h-3zM215 241h1v2h-1zM637 241h1v2h-1zM1252 241h1v2h-1zM185 242h3v1h-3zM429 242h1v1h-1zM620 242h2v1h-2zM726 242h1v1h-1zM1245 242h2v1h-2zM158 242h1v2h-1zM464 242h1v2h-1zM532 242h1v2h-1zM682 242h1v2h-1zM188 243h2v1h-2zM214 243h1v1h-1zM430 243h1v1h-1zM619 243h1v1h-1zM727 243h1v1h-1zM1247 243h3v1h-3zM638 243h1v2h-1zM1251 243h1v2h-1zM1205 243h1v4h-1zM190 244h1v1h-1zM213 244h1v1h-1zM728 244h1v1h-1zM1250 244h1v1h-1zM157 244h1v2h-1zM431 244h1v2h-1zM463 244h1v2h-1zM533 244h1v2h-1zM618 244h1v2h-1zM681 244h1v2h-1zM191 245h2v1h-2zM212 245h1v1h-1zM639 245h1v2h-1zM729 245h1v2h-1zM193 246h2v1h-2zM210 246h2v1h-2zM432 246h1v1h-1zM617 246h1v1h-1zM156 246h1v2h-1zM462 246h1v2h-1zM534 246h1v2h-1zM680 246h1v2h-1zM195 247h2v1h-2zM208 247h2v1h-2zM433 247h1v1h-1zM616 247h1v1h-1zM730 247h1v1h-1zM640 247h1v2h-1zM1204 247h1v4h-1zM197 248h4v1h-4zM205 248h3v1h-3zM535 248h1v1h-1zM155 248h1v2h-1zM434 248h1v2h-1zM461 248h1v2h-1zM615 248h1v2h-1zM679 248h1v2h-1zM731 248h1v2h-1zM201 249h4v1h-4zM536 249h1v2h-1zM641 249h1v2h-1zM435 250h1v1h-1zM614 250h1v1h-1zM460 250h1v2h-1zM678 250h1v2h-1zM154 250h1v3h-1zM732 250h1v3h-1zM436 251h2v1h-2zM613 251h1v1h-1zM537 251h1v2h-1zM642 251h1v2h-1zM1203 251h1v3h-1zM438 252h1v1h-1zM459 252h1v1h-1zM612 252h1v2h-1zM677 252h1v2h-1zM439 253h2v1h-2zM458 253h1v1h-1zM538 253h1v2h-1zM643 253h1v2h-1zM153 253h1v3h-1zM733 253h1v3h-1zM441 254h2v1h-2zM457 254h1v1h-1zM611 254h1v1h-1zM676 254h1v2h-1zM1202 254h1v3h-1zM443 255h1v1h-1zM456 255h1v1h-1zM644 255h1v1h-1zM539 255h1v2h-1zM610 255h1v2h-1zM444 256h1v1h-1zM645 256h1v1h-1zM674 256h2v1h-2zM455 256h1v2h-1zM152 256h1v3h-1zM734 256h1v3h-1zM445 257h2v1h-2zM646 257h1v1h-1zM672 257h2v1h-2zM540 257h1v2h-1zM609 257h1v2h-1zM1201 257h1v2h-1zM447 258h1v1h-1zM454 258h1v1h-1zM647 258h1v1h-1zM669 258h3v1h-3zM448 259h1v1h-1zM453 259h1v1h-1zM608 259h1v1h-1zM648 259h1v1h-1zM666 259h3v1h-3zM151 259h1v2h-1zM541 259h1v2h-1zM735 259h1v2h-1zM1200 259h1v3h-1zM449 260h2v1h-2zM452 260h1v1h-1zM649 260h1v1h-1zM664 260h2v1h-2zM607 260h1v2h-1zM451 261h1v1h-1zM650 261h1v1h-1zM661 261h3v1h-3zM542 261h1v2h-1zM150 261h1v3h-1zM736 261h1v3h-1zM606 262h1v1h-1zM651 262h10v1h-10zM1199 262h1v3h-1zM605 263h1v2h-1zM543 263h1v3h-1zM149 264h1v3h-1zM737 264h1v3h-1zM1131 265h1v1h-1zM604 265h1v2h-1zM1198 265h1v3h-1zM1130 266h1v1h-1zM1132 266h2v1h-2zM544 266h1v2h-1zM603 267h1v1h-1zM1129 267h1v1h-1zM1134 267h1v1h-1zM148 267h1v3h-1zM738 267h1v3h-1zM1128 268h1v1h-1zM1135 268h2v1h-2zM545 268h1v2h-1zM602 268h1v2h-1zM1197 268h1v2h-1zM1126 269h2v1h-2zM1137 269h2v1h-2zM1125 270h1v1h-1zM1139 270h1v1h-1zM546 270h1v2h-1zM601 270h1v2h-1zM147 270h1v3h-1zM739 270h1v3h-1zM1196 270h1v3h-1zM1124 271h1v1h-1zM1140 271h1v2h-1zM1123 272h1v1h-1zM600 272h1v2h-1zM547 272h1v3h-1zM1141 273h1v1h-1zM740 273h1v2h-1zM1122 273h1v2h-1zM1195 273h1v3h-1zM146 273h1v4h-1zM599 274h1v1h-1zM1142 274h1v2h-1zM598 275h1v2h-1zM741 275h1v2h-1zM1121 275h1v2h-1zM548 275h1v4h-1zM1143 276h1v1h-1zM1194 276h1v2h-1zM1120 277h1v1h-1zM597 277h1v2h-1zM742 277h1v2h-1zM1144 277h1v2h-1zM145 277h1v4h-1zM1119 278h1v2h-1zM1193 278h1v2h-1zM1145 279h1v1h-1zM596 279h1v2h-1zM743 279h1v2h-1zM549 279h1v3h-1zM1118 280h1v1h-1zM1146 280h1v2h-1zM1192 280h1v3h-1zM595 281h1v2h-1zM744 281h1v2h-1zM1117 281h1v2h-1zM144 281h1v4h-1zM1147 282h1v1h-1zM550 282h1v4h-1zM1148 283h2v1h-2zM745 283h1v2h-1zM1116 283h1v2h-1zM1191 283h1v2h-1zM594 283h1v3h-1zM1150 284h1v1h-1zM1115 285h1v1h-1zM1151 285h2v1h-2zM746 285h1v2h-1zM143 285h1v3h-1zM1190 285h1v3h-1zM1114 286h1v1h-1zM1153 286h2v1h-2zM551 286h1v3h-1zM593 286h1v3h-1zM1113 287h1v1h-1zM1155 287h1v1h-1zM747 287h1v3h-1zM1112 288h1v1h-1zM1156 288h1v2h-1zM1189 288h1v2h-1zM142 288h1v4h-1zM1110 289h2v1h-2zM592 289h1v3h-1zM552 289h1v4h-1zM1109 290h1v1h-1zM1157 290h1v1h-1zM1188 290h1v2h-1zM748 290h1v3h-1zM1108 291h1v1h-1zM1158 291h1v2h-1zM1107 292h1v1h-1zM591 292h1v2h-1zM1187 292h1v3h-1zM141 292h1v4h-1zM1105 293h2v1h-2zM1159 293h1v1h-1zM553 293h1v3h-1zM749 293h1v3h-1zM1103 294h2v1h-2zM1160 294h1v2h-1zM590 294h1v3h-1zM1101 295h2v1h-2zM1186 295h1v2h-1zM1099 296h2v1h-2zM1161 296h1v1h-1zM750 296h1v3h-1zM140 296h1v4h-1zM554 296h1v4h-1zM1098 297h1v2h-1zM1162 297h1v2h-1zM589 297h1v3h-1zM1185 297h1v3h-1zM1097 299h1v1h-1zM1163 299h1v2h-1zM751 299h1v4h-1zM1096 300h1v2h-1zM1184 300h1v2h-1zM555 300h1v3h-1zM588 300h1v3h-1zM139 300h1v4h-1zM1164 301h1v2h-1zM1095 302h1v1h-1zM1183 302h1v3h-1zM556 303h1v2h-1zM1094 303h1v2h-1zM1165 303h1v2h-1zM587 303h1v3h-1zM752 303h1v3h-1zM138 304h1v6h-1zM1093 305h1v1h-1zM557 305h1v2h-1zM1166 305h1v2h-1zM1182 305h1v2h-1zM586 306h1v2h-1zM1092 306h1v2h-1zM753 306h1v3h-1zM558 307h1v2h-1zM1167 307h1v3h-1zM1181 307h1v3h-1zM585 308h1v2h-1zM1091 308h1v2h-1zM559 309h1v3h-1zM754 309h1v3h-1zM584 310h1v2h-1zM1090 310h1v2h-1zM1168 310h1v2h-1zM1180 310h1v2h-1zM137 310h1v5h-1zM560 312h1v2h-1zM1089 312h1v2h-1zM1169 312h1v2h-1zM1179 312h1v2h-1zM583 312h1v3h-1zM755 312h1v3h-1zM1177 314h2v1h-2zM561 314h1v2h-1zM1088 314h1v2h-1zM1170 314h1v2h-1zM1175 315h2v1h-2zM582 315h1v2h-1zM756 315h1v4h-1zM136 315h1v6h-1zM1173 316h2v1h-2zM562 316h1v2h-1zM1087 316h1v2h-1zM1171 316h1v2h-1zM1172 317h1v1h-1zM581 317h1v2h-1zM563 318h1v2h-1zM1086 318h1v2h-1zM580 319h1v2h-1zM757 319h1v3h-1zM564 320h1v1h-1zM1085 320h1v2h-1zM565 321h2v1h-2zM579 321h1v2h-1zM135 321h1v5h-1zM567 322h1v1h-1zM578 322h1v1h-1zM1084 322h1v2h-1zM758 322h1v3h-1zM568 323h1v1h-1zM576 323h2v1h-2zM569 324h2v1h-2zM573 324h3v1h-3zM1083 324h1v1h-1zM571 325h2v1h-2zM1081 325h2v1h-2zM759 325h1v4h-1zM1079 326h2v1h-2zM134 326h1v6h-1zM1077 327h2v1h-2zM1075 328h2v1h-2zM1074 329h1v1h-1zM760 329h1v3h-1zM1073 330h1v2h-1zM1072 332h1v1h-1zM761 332h1v3h-1zM133 332h1v5h-1zM1071 333h1v1h-1zM1070 334h1v1h-1zM1069 335h1v2h-1zM762 335h1v4h-1zM1068 337h1v1h-1zM132 337h1v6h-1zM1067 338h1v1h-1zM1066 339h1v2h-1zM763 339h1v3h-1zM1065 341h1v2h-1zM764 342h1v3h-1zM1064 343h1v2h-1zM131 343h1v4h-1zM1063 345h1v2h-1zM765 345h1v4h-1zM1062 347h1v2h-1zM130 347h1v4h-1zM1061 349h1v2h-1zM766 349h1v3h-1zM1060 351h1v2h-1zM129 351h1v3h-1zM767 352h1v3h-1zM1059 353h1v1h-1zM1058 354h1v2h-1zM128 354h1v4h-1zM768 355h1v3h-1zM1057 356h1v2h-1zM1056 358h1v2h-1zM127 358h1v3h-1zM769 358h1v4h-1zM1055 360h1v2h-1zM126 361h1v4h-1zM1054 362h1v2h-1zM770 362h1v3h-1zM1053 364h1v2h-1zM125 365h1v3h-1zM771 365h1v3h-1zM1052 366h1v2h-1zM1051 368h1v1h-1zM124 368h1v4h-1zM772 368h1v4h-1zM1050 369h1v2h-1zM1049 371h1v1h-1zM1048 372h1v1h-1zM123 372h1v3h-1zM773 372h1v3h-1zM1047 373h1v2h-1zM1046 375h1v1h-1zM122 375h1v2h-1zM774 375h1v3h-1zM1045 376h1v1h-1zM1044 377h1v2h-1zM121 377h1v3h-1zM775 378h1v4h-1zM1043 379h1v1h-1zM1042 380h1v1h-1zM120 380h1v2h-1zM1041 381h1v1h-1zM1040 382h1v1h-1zM119 382h1v3h-1zM776 382h1v3h-1zM1039 383h1v1h-1zM1038 384h1v1h-1zM1037 385h1v1h-1zM118 385h1v2h-1zM777 385h1v3h-1zM1036 386h1v1h-1zM1035 387h1v1h-1zM117 387h1v3h-1zM1034 388h1v2h-1zM778 388h1v4h-1zM116 390h1v2h-1zM1033 390h1v2h-1zM1032 392h1v2h-1zM115 392h1v3h-1zM779 392h1v3h-1zM1031 394h1v1h-1zM819 395h4v1h-4zM114 395h1v2h-1zM1030 395h1v2h-1zM780 395h1v4h-1zM817 396h2v1h-2zM823 396h5v1h-5zM816 397h1v1h-1zM828 397h1v1h-1zM113 397h1v2h-1zM1029 397h1v2h-1zM814 398h2v1h-2zM829 398h1v1h-1zM812 399h2v1h-2zM830 399h1v1h-1zM112 399h1v2h-1zM1028 399h1v2h-1zM781 399h1v4h-1zM811 400h1v1h-1zM831 400h2v1h-2zM833 401h1v1h-1zM1027 401h1v1h-1zM111 401h1v2h-1zM810 401h1v2h-1zM834 402h1v1h-1zM1026 402h1v2h-1zM835 403h2v1h-2zM110 403h1v2h-1zM809 403h1v2h-1zM782 403h1v4h-1zM837 404h4v1h-4zM1025 404h1v1h-1zM841 405h3v1h-3zM109 405h1v2h-1zM808 405h1v2h-1zM1024 405h1v2h-1zM844 406h1v1h-1zM845 407h2v1h-2zM1023 407h1v1h-1zM108 407h1v2h-1zM807 407h1v2h-1zM783 407h1v3h-1zM847 408h1v1h-1zM867 408h2v1h-2zM1022 408h1v2h-1zM848 409h1v1h-1zM865 409h2v1h-2zM869 409h4v1h-4zM107 409h1v2h-1zM806 409h1v2h-1zM849 410h2v1h-2zM863 410h2v1h-2zM873 410h2v1h-2zM1021 410h1v1h-1zM875 410h1v2h-1zM784 410h1v4h-1zM851 411h4v1h-4zM861 411h2v1h-2zM805 411h1v2h-1zM1020 411h1v2h-1zM106 411h1v3h-1zM855 412h6v1h-6zM876 412h1v2h-1zM1019 413h1v1h-1zM804 413h1v2h-1zM1018 414h1v1h-1zM105 414h1v2h-1zM877 414h1v2h-1zM785 414h1v4h-1zM803 415h1v1h-1zM1017 415h1v2h-1zM801 416h2v1h-2zM878 416h1v2h-1zM104 416h1v3h-1zM799 417h2v1h-2zM1016 417h1v1h-1zM797 418h2v1h-2zM1015 418h1v1h-1zM879 418h1v2h-1zM786 418h1v4h-1zM795 419h2v1h-2zM1014 419h1v1h-1zM103 419h1v3h-1zM793 420h2v1h-2zM880 420h1v2h-1zM1013 420h1v2h-1zM791 421h2v1h-2zM789 422h2v1h-2zM1012 422h1v1h-1zM787 422h1v2h-1zM881 422h1v2h-1zM102 422h1v3h-1zM788 423h1v1h-1zM1011 423h1v1h-1zM1010 424h1v1h-1zM882 424h1v2h-1zM1009 425h1v1h-1zM101 425h1v2h-1zM1008 426h1v1h-1zM883 426h1v3h-1zM1006 427h2v1h-2zM100 427h1v3h-1zM1005 428h1v1h-1zM1004 429h1v1h-1zM884 429h1v2h-1zM99 430h1v2h-1zM1003 430h1v2h-1zM885 431h1v3h-1zM98 432h1v2h-1zM1002 432h1v2h-1zM97 434h1v2h-1zM1001 434h1v2h-1zM886 434h1v3h-1zM96 436h1v2h-1zM1000 436h1v2h-1zM887 437h1v2h-1zM95 438h1v1h-1zM999 438h1v2h-1zM94 439h1v2h-1zM888 439h1v3h-1zM998 440h1v2h-1zM93 441h1v2h-1zM997 442h1v2h-1zM889 442h1v3h-1zM92 443h1v2h-1zM996 444h1v2h-1zM91 445h1v1h-1zM890 445h1v2h-1zM90 446h1v1h-1zM995 446h1v2h-1zM89 447h1v1h-1zM891 447h1v3h-1zM88 448h1v1h-1zM994 448h1v2h-1zM87 449h1v1h-1zM86 450h1v1h-1zM892 450h1v2h-1zM993 450h1v3h-1zM85 451h1v1h-1zM59 452h1v1h-1zM84 452h1v1h-1zM893 452h1v2h-1zM57 453h2v1h-2zM60 453h1v1h-1zM83 453h1v1h-1zM992 453h1v3h-1zM55 454h2v1h-2zM82 454h1v1h-1zM61 454h1v2h-1zM894 454h1v2h-1zM53 455h2v1h-2zM81 455h1v1h-1zM50 456h3v1h-3zM62 456h1v1h-1zM80 456h1v1h-1zM991 456h1v2h-1zM895 456h1v3h-1zM48 457h2v1h-2zM63 457h1v1h-1zM79 457h1v1h-1zM45 458h3v1h-3zM64 458h1v1h-1zM78 458h1v1h-1zM990 458h1v3h-1zM43 459h2v1h-2zM77 459h1v1h-1zM65 459h1v2h-1zM896 459h1v2h-1zM41 460h2v1h-2zM76 460h1v1h-1zM39 461h2v1h-2zM66 461h1v1h-1zM72 461h4v1h-4zM897 461h1v2h-1zM989 461h1v3h-1zM37 462h2v1h-2zM67 462h5v1h-5zM35 463h2v1h-2zM898 463h1v2h-1zM34 464h1v2h-1zM988 464h1v2h-1zM899 465h1v3h-1zM33 466h1v1h-1zM987 466h1v3h-1zM32 467h1v1h-1zM31 468h1v2h-1zM900 468h1v3h-1zM986 469h1v2h-1zM30 470h1v1h-1zM29 471h1v1h-1zM901 471h1v3h-1zM985 471h1v3h-1zM28 472h1v2h-1zM27 474h1v2h-1zM902 474h1v3h-1zM984 474h1v3h-1zM26 476h1v2h-1zM903 477h1v2h-1zM983 477h1v2h-1zM25 478h1v2h-1zM904 479h1v3h-1zM982 479h1v3h-1zM24 480h1v2h-1zM23 482h1v3h-1zM905 482h1v3h-1zM981 482h1v3h-1zM22 485h1v2h-1zM980 485h1v2h-1zM906 485h1v3h-1zM21 487h1v2h-1zM979 487h1v3h-1zM907 488h1v3h-1zM20 489h1v2h-1zM978 490h1v2h-1zM19 491h1v2h-1zM908 491h1v2h-1zM18 492h1v1h-1zM977 492h1v2h-1zM14 493h4v1h-4zM909 493h1v2h-1zM10 494h4v1h-4zM976 494h1v3h-1zM6 495h4v1h-4zM910 495h1v3h-1zM3 496h3v1h-3zM975 497h1v2h-1zM911 498h1v2h-1zM974 499h1v3h-1zM912 500h1v3h-1zM973 502h1v2h-1zM913 503h1v2h-1zM972 504h1v2h-1zM914 505h1v2h-1zM971 506h1v3h-1zM915 507h1v2h-1zM916 509h1v2h-1zM970 509h1v2h-1zM917 511h1v2h-1zM969 511h1v2h-1zM918 513h1v2h-1zM968 513h1v2h-1zM919 515h1v1h-1zM967 515h1v2h-1zM920 516h1v2h-1zM966 517h1v2h-1zM921 518h1v2h-1zM965 519h1v2h-1zM922 520h1v2h-1zM964 521h1v2h-1zM923 522h1v1h-1zM924 523h1v1h-1zM963 523h1v1h-1zM925 524h2v1h-2zM962 524h1v2h-1zM927 525h1v1h-1zM928 526h1v1h-1zM961 526h1v2h-1zM929 527h2v1h-2zM931 528h1v1h-1zM960 528h1v2h-1zM932 529h2v1h-2zM934 530h2v1h-2zM959 530h1v2h-1zM936 531h2v1h-2zM938 532h3v1h-3zM958 532h1v2h-1zM941 533h4v1h-4zM945 534h3v1h-3zM957 534h1v2h-1zM948 535h2v1h-2zM950 536h2v1h-2zM956 536h1v2h-1zM952 537h2v1h-2zM954 538h2v1h-2z" fill="#ffa500" shape-rendering="crispEdges"/>
<rect x="3" y="89" width="1680" height="2" fill="#ff0000"/>
<rect x="3" y="169" width="1680" height="2" fill="#ff0000"/>
<rect x="3" y="253" width="1680" height="2" fill="#00ff00"/>
<rect x="3" y="336" width="1680" height="2" fill="#0000cd"/>
<rect x="3" y="417" width="1680" height="2" fill="#ff0000"/>
</g>
<rect x="2" y="87" width="6" height="6" fill="#ff0000"/>
<rect x="4" y="89" width="2" height="2" fill="#ffffff"/>
<rect x="1677" y="87" width="6" height="6" fill="#ff0000"/>
<rect x="1679" y="89" width="2" height="2" fill="#ffffff"/>
<rect x="2" y="167" width="6" height="6" fill="#ff0000"/>
<rect x="4" y="169" width="2" height="2" fill="#ffffff"/>
<rect x="1677" y="167" width="6" height="6" fill="#ff0000"/>
<rect x="1679" y="169" width="2" height="2" fill="#ffffff"/>
<rect x="2" y="251" width="6" height="6" fill="#00ff00"/>
<rect x="4" y="253" width="2" height="2" fill="#ffffff"/>
<rect x="1677" y="251" width="6" height="6" fill="#00ff00"/>
<rect x="1679" y="253" width="2" height="2" fill="#ffffff"/>
<rect x="2" y="334" width="6" height="6" fill="#0000cd"/>
<rect x="4" y="336" width="2" height="2" fill="#ffffff"/>
<rect x="1677" y="334" width="6" height="6" fill="#0000cd"/>
<rect x="1679" y="336" width="2" height="2" fill="#ffffff"/>
<rect x="2" y="415" width="6" height="6" fill="#ff0000"/>
<rect x="4" y="417" width="2" height="2" fill="#ffffff"/>
<rect x="1677" y="415" width="6" height="6" fill="#ff0000"/>
<rect x="1679" y="417" width="2" height="2" fill="#ffffff"/>
<rect x="1684" y="29" width="2" height="1" fill="#000"/>
<text x="1689.5" y="33" font-size="10" fill="#000" textLength="32" lengthAdjust="spacingAndGlyphs" stroke="#000" stroke-width="0.25">1.23790</text>
<rect x="1684" y="62" width="2" height="1" fill="#000"/>
<text x="1689.5" y="66" font-size="10" fill="#000" textLength="32" lengthAdjust="spacingAndGlyphs" stroke="#000" stroke-width="0.25">1.23390</text>
<rect x="1684" y="95" width="2" height="1" fill="#000"/>
<text x="1689.5" y="99" font-size="10" fill="#000" textLength="32" lengthAdjust="spacingAndGlyphs" stroke="#000" stroke-width="0.25">1.22980</text>
<rect x="1684" y="128" width="2" height="1" fill="#000"/>
<text x="1689.5" y="132" font-size="10" fill="#000" textLength="32" lengthAdjust="spacingAndGlyphs" stroke="#000" stroke-width="0.25">1.22570</text>
<rect x="1684" y="161" width="2" height="1" fill="#000"/>
<text x="1689.5" y="165" font-size="10" fill="#000" textLength="32" lengthAdjust="spacingAndGlyphs" stroke="#000" stroke-width="0.25">1.22170</text>
<rect x="1684" y="194" width="2" height="1" fill="#000"/>
<text x="1689.5" y="198" font-size="10" fill="#000" textLength="32" lengthAdjust="spacingAndGlyphs" stroke="#000" stroke-width="0.25">1.21760</text>
<rect x="1684" y="227" width="2" height="1" fill="#000"/>
<text x="1689.5" y="231" font-size="10" fill="#000" textLength="32" lengthAdjust="spacingAndGlyphs" stroke="#000" stroke-width="0.25">1.21360</text>
<rect x="1684" y="260" width="2" height="1" fill="#000"/>
<text x="1689.5" y="264" font-size="10" fill="#000" textLength="32" lengthAdjust="spacingAndGlyphs" stroke="#000" stroke-width="0.25">1.20950</text>
<rect x="1684" y="293" width="2" height="1" fill="#000"/>
<text x="1689.5" y="297" font-size="10" fill="#000" textLength="32" lengthAdjust="spacingAndGlyphs" stroke="#000" stroke-width="0.25">1.20550</text>
<rect x="1684" y="326" width="2" height="1" fill="#000"/>
<text x="1689.5" y="330" font-size="10" fill="#000" textLength="32" lengthAdjust="spacingAndGlyphs" stroke="#000" stroke-width="0.25">1.20140</text>
<rect x="1684" y="359" width="2" height="1" fill="#000"/>
<text x="1689.5" y="363" font-size="10" fill="#000" textLength="32" lengthAdjust="spacingAndGlyphs" stroke="#000" stroke-width="0.25">1.19740</text>
<rect x="1684" y="392" width="2" height="1" fill="#000"/>
<text x="1689.5" y="396" font-size="10" fill="#000" textLength="32" lengthAdjust="spacingAndGlyphs" stroke="#000" stroke-width="0.25">1.19330</text>
<rect x="1684" y="425" width="2" height="1" fill="#000"/>
<text x="1689.5" y="429" font-size="10" fill="#000" textLength="32" lengthAdjust="spacingAndGlyphs" stroke="#000" stroke-width="0.25">1.18930</text>
<rect x="1684" y="458" width="2" height="1" fill="#000"/>
<text x="1689.5" y="462" font-size="10" fill="#000" textLength="32" lengthAdjust="spacingAndGlyphs" stroke="#000" stroke-width="0.25">1.18520</text>
<rect x="1684" y="491" width="2" height="1" fill="#000"/>
<text x="1689.5" y="495" font-size="10" fill="#000" textLength="32" lengthAdjust="spacingAndGlyphs" stroke="#000" stroke-width="0.25">1.18120</text>
<rect x="1684" y="524" width="2" height="1" fill="#000"/>
<text x="1689.5" y="528" font-size="10" fill="#000" textLength="32" lengthAdjust="spacingAndGlyphs" stroke="#000" stroke-width="0.25">1.17710</text>
<rect x="1684" y="557" width="2" height="1" fill="#000"/>
<text x="1689.5" y="561" font-size="10" fill="#000" textLength="32" lengthAdjust="spacingAndGlyphs" stroke="#000" stroke-width="0.25">1.17300</text>
<rect x="1684" y="590" width="2" height="1" fill="#000"/>
<text x="1689.5" y="594" font-size="10" fill="#000" textLength="32" lengthAdjust="spacingAndGlyphs" stroke="#000" stroke-width="0.25">1.16900</text>
<rect x="1685" y="84" width="41" height="11" fill="#ff0000"/>
<text x="1689.5" y="93" font-size="10" fill="#fff" textLength="32" lengthAdjust="spacingAndGlyphs" stroke="#fff" stroke-width="0.2">1.23047</text>
<rect x="1685" y="164" width="41" height="11" fill="#ff0000"/>
<text x="1689.5" y="173" font-size="10" fill="#fff" textLength="32" lengthAdjust="spacingAndGlyphs" stroke="#fff" stroke-width="0.2">1.22055</text>
<rect x="1685" y="185" width="41" height="11" fill="#000000"/>
<text x="1689.5" y="194" font-size="10" fill="#fff" textLength="32" lengthAdjust="spacingAndGlyphs" stroke="#fff" stroke-width="0.2">1.21817</text>
<rect x="1685" y="248" width="41" height="11" fill="#00ff00"/>
<text x="1689.5" y="257" font-size="10" fill="#fff" textLength="32" lengthAdjust="spacingAndGlyphs" stroke="#fff" stroke-width="0.2">1.21032</text>
<rect x="1685" y="331" width="41" height="11" fill="#0000cd"/>
<text x="1689.5" y="340" font-size="10" fill="#fff" textLength="32" lengthAdjust="spacingAndGlyphs" stroke="#fff" stroke-width="0.2">1.20010</text>
<rect x="1685" y="412" width="41" height="11" fill="#ff0000"/>
<text x="1689.5" y="421" font-size="10" fill="#fff" textLength="32" lengthAdjust="spacingAndGlyphs" stroke="#fff" stroke-width="0.2">1.19018</text>
<path d="M6,33 L13,33 L9.5,37 Z" fill="#000"/>
<text x="18" y="38" font-size="10" fill="#000" textLength="64.5" lengthAdjust="spacingAndGlyphs" stroke="#000" stroke-width="0.25">EURUSD,Daily</text>
<text x="88" y="38" font-size="10" fill="#000" textLength="141.5" lengthAdjust="spacingAndGlyphs" stroke="#000" stroke-width="0.25">1.21933 1.22039 1.21808 1.21817</text>
<g clip-path="url(#cr)">
<path d="M4 627h3v1h-3zM10 627h3v1h-3zM16 627h3v1h-3zM22 627h3v1h-3zM28 627h3v1h-3zM34 627h3v1h-3zM40 627h3v1h-3zM46 627h3v1h-3zM52 627h3v1h-3zM58 627h3v1h-3zM64 627h3v1h-3zM70 627h3v1h-3zM76 627h3v1h-3zM82 627h3v1h-3zM88 627h3v1h-3zM94 627h3v1h-3zM100 627h3v1h-3zM106 627h3v1h-3zM112 627h3v1h-3zM118 627h3v1h-3zM124 627h3v1h-3zM130 627h3v1h-3zM136 627h3v1h-3zM142 627h3v1h-3zM148 627h3v1h-3zM154 627h3v1h-3zM160 627h3v1h-3zM166 627h3v1h-3zM172 627h3v1h-3zM178 627h3v1h-3zM184 627h3v1h-3zM190 627h3v1h-3zM196 627h3v1h-3zM202 627h3v1h-3zM208 627h3v1h-3zM214 627h3v1h-3zM220 627h3v1h-3zM226 627h3v1h-3zM232 627h3v1h-3zM238 627h3v1h-3zM244 627h3v1h-3zM250 627h3v1h-3zM256 627h3v1h-3zM262 627h3v1h-3zM268 627h3v1h-3zM274 627h3v1h-3zM280 627h3v1h-3zM286 627h3v1h-3zM292 627h3v1h-3zM298 627h3v1h-3zM304 627h3v1h-3zM310 627h3v1h-3zM316 627h3v1h-3zM322 627h3v1h-3zM328 627h3v1h-3zM334 627h3v1h-3zM340 627h3v1h-3zM346 627h3v1h-3zM352 627h3v1h-3zM358 627h3v1h-3zM364 627h3v1h-3zM370 627h3v1h-3zM376 627h3v1h-3zM382 627h3v1h-3zM388 627h3v1h-3zM394 627h3v1h-3zM400 627h3v1h-3zM406 627h3v1h-3zM412 627h3v1h-3zM418 627h3v1h-3zM424 627h3v1h-3zM430 627h3v1h-3zM436 627h3v1h-3zM442 627h3v1h-3zM448 627h3v1h-3zM454 627h3v1h-3zM460 627h3v1h-3zM466 627h3v1h-3zM472 627h3v1h-3zM478 627h3v1h-3zM484 627h3v1h-3zM490 627h3v1h-3zM496 627h3v1h-3zM502 627h3v1h-3zM508 627h3v1h-3zM514 627h3v1h-3zM520 627h3v1h-3zM526 627h3v1h-3zM532 627h3v1h-3zM538 627h3v1h-3zM544 627h3v1h-3zM550 627h3v1h-3zM556 627h3v1h-3zM562 627h3v1h-3zM568 627h3v1h-3zM574 627h3v1h-3zM580 627h3v1h-3zM586 627h3v1h-3zM592 627h3v1h-3zM598 627h3v1h-3zM604 627h3v1h-3zM610 627h3v1h-3zM616 627h3v1h-3zM622 627h3v1h-3zM628 627h3v1h-3zM634 627h3v1h-3zM640 627h3v1h-3zM646 627h3v1h-3zM652 627h3v1h-3zM658 627h3v1h-3zM664 627h3v1h-3zM670 627h3v1h-3zM676 627h3v1h-3zM682 627h3v1h-3zM688 627h3v1h-3zM694 627h3v1h-3zM700 627h3v1h-3zM706 627h3v1h-3zM712 627h3v1h-3zM718 627h3v1h-3zM724 627h3v1h-3zM730 627h3v1h-3zM736 627h3v1h-3zM742 627h3v1h-3zM748 627h3v1h-3zM754 627h3v1h-3zM760 627h3v1h-3zM766 627h3v1h-3zM772 627h3v1h-3zM778 627h3v1h-3zM784 627h3v1h-3zM790 627h3v1h-3zM796 627h3v1h-3zM802 627h3v1h-3zM808 627h3v1h-3zM814 627h3v1h-3zM820 627h3v1h-3zM826 627h3v1h-3zM832 627h3v1h-3zM838 627h3v1h-3zM844 627h3v1h-3zM850 627h3v1h-3zM856 627h3v1h-3zM862 627h3v1h-3zM868 627h3v1h-3zM874 627h3v1h-3zM880 627h3v1h-3zM886 627h3v1h-3zM892 627h3v1h-3zM898 627h3v1h-3zM904 627h3v1h-3zM910 627h3v1h-3zM916 627h3v1h-3zM922 627h3v1h-3zM928 627h3v1h-3zM934 627h3v1h-3zM940 627h3v1h-3zM946 627h3v1h-3zM952 627h3v1h-3zM958 627h3v1h-3zM964 627h3v1h-3zM970 627h3v1h-3zM976 627h3v1h-3zM982 627h3v1h-3zM988 627h3v1h-3zM994 627h3v1h-3zM1000 627h3v1h-3zM1006 627h3v1h-3zM1012 627h3v1h-3zM1018 627h3v1h-3zM1024 627h3v1h-3zM1030 627h3v1h-3zM1036 627h3v1h-3zM1042 627h3v1h-3zM1048 627h3v1h-3zM1054 627h3v1h-3zM1060 627h3v1h-3zM1066 627h3v1h-3zM1072 627h3v1h-3zM1078 627h3v1h-3zM1084 627h3v1h-3zM1090 627h3v1h-3zM1096 627h3v1h-3zM1102 627h3v1h-3zM1108 627h3v1h-3zM1114 627h3v1h-3zM1120 627h3v1h-3zM1126 627h3v1h-3zM1132 627h3v1h-3zM1138 627h3v1h-3zM1144 627h3v1h-3zM1150 627h3v1h-3zM1156 627h3v1h-3zM1162 627h3v1h-3zM1168 627h3v1h-3zM1174 627h3v1h-3zM1180 627h3v1h-3zM1186 627h3v1h-3zM1192 627h3v1h-3zM1198 627h3v1h-3zM1204 627h3v1h-3zM1210 627h3v1h-3zM1216 627h3v1h-3zM1222 627h3v1h-3zM1228 627h3v1h-3zM1234 627h3v1h-3zM1240 627h3v1h-3zM1246 627h3v1h-3zM1252 627h3v1h-3zM1258 627h3v1h-3zM1264 627h3v1h-3zM1270 627h3v1h-3zM1276 627h3v1h-3zM1282 627h3v1h-3zM1288 627h3v1h-3zM1294 627h3v1h-3zM1300 627h3v1h-3zM1306 627h3v1h-3zM1312 627h3v1h-3zM1318 627h3v1h-3zM1324 627h3v1h-3zM1330 627h3v1h-3zM1336 627h3v1h-3zM1342 627h3v1h-3zM1348 627h3v1h-3zM1354 627h3v1h-3zM1360 627h3v1h-3zM1366 627h3v1h-3zM1372 627h3v1h-3zM1378 627h3v1h-3zM1384 627h3v1h-3zM1390 627h3v1h-3zM1396 627h3v1h-3zM1402 627h3v1h-3zM1408 627h3v1h-3zM1414 627h3v1h-3zM1420 627h3v1h-3zM1426 627h3v1h-3zM1432 627h3v1h-3zM1438 627h3v1h-3zM1444 627h3v1h-3zM1450 627h3v1h-3zM1456 627h3v1h-3zM1462 627h3v1h-3zM1468 627h3v1h-3zM1474 627h3v1h-3zM1480 627h3v1h-3zM1486 627h3v1h-3zM1492 627h3v1h-3zM1498 627h3v1h-3zM1504 627h3v1h-3zM1510 627h3v1h-3zM1516 627h3v1h-3zM1522 627h3v1h-3zM1528 627h3v1h-3zM1534 627h3v1h-3zM1540 627h3v1h-3zM1546 627h3v1h-3zM1552 627h3v1h-3zM1558 627h3v1h-3zM1564 627h3v1h-3zM1570 627h3v1h-3zM1576 627h3v1h-3zM1582 627h3v1h-3zM1588 627h3v1h-3zM1594 627h3v1h-3zM1600 627h3v1h-3zM1606 627h3v1h-3zM1612 627h3v1h-3zM1618 627h3v1h-3zM1624 627h3v1h-3zM1630 627h3v1h-3zM1636 627h3v1h-3zM1642 627h3v1h-3zM1648 627h3v1h-3zM1654 627h3v1h-3zM1660 627h3v1h-3zM1666 627h3v1h-3zM1672 627h3v1h-3zM1678 627h3v1h-3z" fill="#c0c0c0" shape-rendering="crispEdges"/>
<path d="M4 668h3v1h-3zM10 668h3v1h-3zM16 668h3v1h-3zM22 668h3v1h-3zM28 668h3v1h-3zM34 668h3v1h-3zM40 668h3v1h-3zM46 668h3v1h-3zM52 668h3v1h-3zM58 668h3v1h-3zM64 668h3v1h-3zM70 668h3v1h-3zM76 668h3v1h-3zM82 668h3v1h-3zM88 668h3v1h-3zM94 668h3v1h-3zM100 668h3v1h-3zM106 668h3v1h-3zM112 668h3v1h-3zM118 668h3v1h-3zM124 668h3v1h-3zM130 668h3v1h-3zM136 668h3v1h-3zM142 668h3v1h-3zM148 668h3v1h-3zM154 668h3v1h-3zM160 668h3v1h-3zM166 668h3v1h-3zM172 668h3v1h-3zM178 668h3v1h-3zM184 668h3v1h-3zM190 668h3v1h-3zM196 668h3v1h-3zM202 668h3v1h-3zM208 668h3v1h-3zM214 668h3v1h-3zM220 668h3v1h-3zM226 668h3v1h-3zM232 668h3v1h-3zM238 668h3v1h-3zM244 668h3v1h-3zM250 668h3v1h-3zM256 668h3v1h-3zM262 668h3v1h-3zM268 668h3v1h-3zM274 668h3v1h-3zM280 668h3v1h-3zM286 668h3v1h-3zM292 668h3v1h-3zM298 668h3v1h-3zM304 668h3v1h-3zM310 668h3v1h-3zM316 668h3v1h-3zM322 668h3v1h-3zM328 668h3v1h-3zM334 668h3v1h-3zM340 668h3v1h-3zM346 668h3v1h-3zM352 668h3v1h-3zM358 668h3v1h-3zM364 668h3v1h-3zM370 668h3v1h-3zM376 668h3v1h-3zM382 668h3v1h-3zM388 668h3v1h-3zM394 668h3v1h-3zM400 668h3v1h-3zM406 668h3v1h-3zM412 668h3v1h-3zM418 668h3v1h-3zM424 668h3v1h-3zM430 668h3v1h-3zM436 668h3v1h-3zM442 668h3v1h-3zM448 668h3v1h-3zM454 668h3v1h-3zM460 668h3v1h-3zM466 668h3v1h-3zM472 668h3v1h-3zM478 668h3v1h-3zM484 668h3v1h-3zM490 668h3v1h-3zM496 668h3v1h-3zM502 668h3v1h-3zM508 668h3v1h-3zM514 668h3v1h-3zM520 668h3v1h-3zM526 668h3v1h-3zM532 668h3v1h-3zM538 668h3v1h-3zM544 668h3v1h-3zM550 668h3v1h-3zM556 668h3v1h-3zM562 668h3v1h-3zM568 668h3v1h-3zM574 668h3v1h-3zM580 668h3v1h-3zM586 668h3v1h-3zM592 668h3v1h-3zM598 668h3v1h-3zM604 668h3v1h-3zM610 668h3v1h-3zM616 668h3v1h-3zM622 668h3v1h-3zM628 668h3v1h-3zM634 668h3v1h-3zM640 668h3v1h-3zM646 668h3v1h-3zM652 668h3v1h-3zM658 668h3v1h-3zM664 668h3v1h-3zM670 668h3v1h-3zM676 668h3v1h-3zM682 668h3v1h-3zM688 668h3v1h-3zM694 668h3v1h-3zM700 668h3v1h-3zM706 668h3v1h-3zM712 668h3v1h-3zM718 668h3v1h-3zM724 668h3v1h-3zM730 668h3v1h-3zM736 668h3v1h-3zM742 668h3v1h-3zM748 668h3v1h-3zM754 668h3v1h-3zM760 668h3v1h-3zM766 668h3v1h-3zM772 668h3v1h-3zM778 668h3v1h-3zM784 668h3v1h-3zM790 668h3v1h-3zM796 668h3v1h-3zM802 668h3v1h-3zM808 668h3v1h-3zM814 668h3v1h-3zM820 668h3v1h-3zM826 668h3v1h-3zM832 668h3v1h-3zM838 668h3v1h-3zM844 668h3v1h-3zM850 668h3v1h-3zM856 668h3v1h-3zM862 668h3v1h-3zM868 668h3v1h-3zM874 668h3v1h-3zM880 668h3v1h-3zM886 668h3v1h-3zM892 668h3v1h-3zM898 668h3v1h-3zM904 668h3v1h-3zM910 668h3v1h-3zM916 668h3v1h-3zM922 668h3v1h-3zM928 668h3v1h-3zM934 668h3v1h-3zM940 668h3v1h-3zM946 668h3v1h-3zM952 668h3v1h-3zM958 668h3v1h-3zM964 668h3v1h-3zM970 668h3v1h-3zM976 668h3v1h-3zM982 668h3v1h-3zM988 668h3v1h-3zM994 668h3v1h-3zM1000 668h3v1h-3zM1006 668h3v1h-3zM1012 668h3v1h-3zM1018 668h3v1h-3zM1024 668h3v1h-3zM1030 668h3v1h-3zM1036 668h3v1h-3zM1042 668h3v1h-3zM1048 668h3v1h-3zM1054 668h3v1h-3zM1060 668h3v1h-3zM1066 668h3v1h-3zM1072 668h3v1h-3zM1078 668h3v1h-3zM1084 668h3v1h-3zM1090 668h3v1h-3zM1096 668h3v1h-3zM1102 668h3v1h-3zM1108 668h3v1h-3zM1114 668h3v1h-3zM1120 668h3v1h-3zM1126 668h3v1h-3zM1132 668h3v1h-3zM1138 668h3v1h-3zM1144 668h3v1h-3zM1150 668h3v1h-3zM1156 668h3v1h-3zM1162 668h3v1h-3zM1168 668h3v1h-3zM1174 668h3v1h-3zM1180 668h3v1h-3zM1186 668h3v1h-3zM1192 668h3v1h-3zM1198 668h3v1h-3zM1204 668h3v1h-3zM1210 668h3v1h-3zM1216 668h3v1h-3zM1222 668h3v1h-3zM1228 668h3v1h-3zM1234 668h3v1h-3zM1240 668h3v1h-3zM1246 668h3v1h-3zM1252 668h3v1h-3zM1258 668h3v1h-3zM1264 668h3v1h-3zM1270 668h3v1h-3zM1276 668h3v1h-3zM1282 668h3v1h-3zM1288 668h3v1h-3zM1294 668h3v1h-3zM1300 668h3v1h-3zM1306 668h3v1h-3zM1312 668h3v1h-3zM1318 668h3v1h-3zM1324 668h3v1h-3zM1330 668h3v1h-3zM1336 668h3v1h-3zM1342 668h3v1h-3zM1348 668h3v1h-3zM1354 668h3v1h-3zM1360 668h3v1h-3zM1366 668h3v1h-3zM1372 668h3v1h-3zM1378 668h3v1h-3zM1384 668h3v1h-3zM1390 668h3v1h-3zM1396 668h3v1h-3zM1402 668h3v1h-3zM1408 668h3v1h-3zM1414 668h3v1h-3zM1420 668h3v1h-3zM1426 668h3v1h-3zM1432 668h3v1h-3zM1438 668h3v1h-3zM1444 668h3v1h-3zM1450 668h3v1h-3zM1456 668h3v1h-3zM1462 668h3v1h-3zM1468 668h3v1h-3zM1474 668h3v1h-3zM1480 668h3v1h-3zM1486 668h3v1h-3zM1492 668h3v1h-3zM1498 668h3v1h-3zM1504 668h3v1h-3zM1510 668h3v1h-3zM1516 668h3v1h-3zM1522 668h3v1h-3zM1528 668h3v1h-3zM1534 668h3v1h-3zM1540 668h3v1h-3zM1546 668h3v1h-3zM1552 668h3v1h-3zM1558 668h3v1h-3zM1564 668h3v1h-3zM1570 668h3v1h-3zM1576 668h3v1h-3zM1582 668h3v1h-3zM1588 668h3v1h-3zM1594 668h3v1h-3zM1600 668h3v1h-3zM1606 668h3v1h-3zM1612 668h3v1h-3zM1618 668h3v1h-3zM1624 668h3v1h-3zM1630 668h3v1h-3zM1636 668h3v1h-3zM1642 668h3v1h-3zM1648 668h3v1h-3zM1654 668h3v1h-3zM1660 668h3v1h-3zM1666 668h3v1h-3zM1672 668h3v1h-3zM1678 668h3v1h-3z" fill="#c0c0c0" shape-rendering="crispEdges"/>
<path d="M139 620h2v1h-2zM137 621h2v1h-2zM141 621h4v1h-4zM135 622h2v1h-2zM145 622h6v1h-6zM235 622h4v1h-4zM133 623h2v1h-2zM151 623h8v1h-8zM233 623h2v1h-2zM239 623h13v1h-13zM130 624h3v1h-3zM159 624h6v1h-6zM231 624h2v1h-2zM252 624h1v1h-1zM315 624h1v1h-1zM128 625h2v1h-2zM165 625h2v1h-2zM229 625h2v1h-2zM253 625h2v1h-2zM313 625h2v1h-2zM316 625h1v2h-1zM125 626h3v1h-3zM167 626h3v1h-3zM226 626h3v1h-3zM255 626h1v1h-1zM311 626h2v1h-2zM1098 626h3v1h-3zM123 627h2v1h-2zM170 627h2v1h-2zM224 627h2v1h-2zM256 627h1v1h-1zM309 627h2v1h-2zM317 627h1v1h-1zM1096 627h2v1h-2zM1101 627h4v1h-4zM1122 627h10v1h-10zM121 628h2v1h-2zM172 628h2v1h-2zM221 628h3v1h-3zM257 628h2v1h-2zM307 628h2v1h-2zM318 628h1v1h-1zM1066 628h3v1h-3zM1093 628h3v1h-3zM1105 628h6v1h-6zM1118 628h4v1h-4zM1132 628h1v2h-1zM120 629h1v1h-1zM174 629h1v1h-1zM186 629h3v1h-3zM218 629h3v1h-3zM259 629h1v1h-1zM305 629h2v1h-2zM1062 629h4v1h-4zM1069 629h2v1h-2zM1091 629h2v1h-2zM1111 629h7v1h-7zM319 629h1v2h-1zM118 630h2v1h-2zM175 630h2v1h-2zM184 630h2v1h-2zM189 630h2v1h-2zM214 630h4v1h-4zM260 630h1v1h-1zM303 630h2v1h-2zM1059 630h3v1h-3zM1071 630h3v1h-3zM1089 630h2v1h-2zM1187 630h20v1h-20zM1133 630h1v2h-1zM116 631h2v1h-2zM177 631h2v1h-2zM181 631h3v1h-3zM191 631h3v1h-3zM208 631h6v1h-6zM261 631h2v1h-2zM301 631h2v1h-2zM320 631h1v1h-1zM1057 631h2v1h-2zM1074 631h3v1h-3zM1088 631h1v1h-1zM1207 631h5v1h-5zM1264 631h12v1h-12zM1186 631h1v2h-1zM112 632h4v1h-4zM179 632h2v1h-2zM194 632h14v1h-14zM263 632h1v1h-1zM299 632h2v1h-2zM321 632h1v1h-1zM1055 632h2v1h-2zM1077 632h2v1h-2zM1086 632h2v1h-2zM1259 632h5v1h-5zM1276 632h1v1h-1zM1134 632h1v2h-1zM1212 632h1v2h-1zM106 633h6v1h-6zM264 633h1v1h-1zM297 633h2v1h-2zM352 633h5v1h-5zM1053 633h2v1h-2zM1079 633h3v1h-3zM1084 633h2v1h-2zM1185 633h1v1h-1zM1257 633h2v1h-2zM1277 633h1v1h-1zM1304 633h4v1h-4zM322 633h1v2h-1zM102 634h4v1h-4zM265 634h2v1h-2zM295 634h2v1h-2zM339 634h13v1h-13zM357 634h2v1h-2zM1042 634h11v1h-11zM1082 634h2v1h-2zM1184 634h1v1h-1zM1255 634h2v1h-2zM1278 634h1v1h-1zM1299 634h5v1h-5zM1308 634h2v1h-2zM1135 634h1v2h-1zM1213 634h1v2h-1zM98 635h4v1h-4zM267 635h4v1h-4zM293 635h2v1h-2zM323 635h1v1h-1zM337 635h2v1h-2zM359 635h3v1h-3zM1026 635h5v1h-5zM1038 635h4v1h-4zM1253 635h2v1h-2zM1279 635h2v1h-2zM1297 635h2v1h-2zM1310 635h2v1h-2zM1183 635h1v2h-1zM96 636h2v1h-2zM271 636h22v1h-22zM324 636h2v1h-2zM336 636h1v1h-1zM362 636h3v1h-3zM1024 636h2v1h-2zM1031 636h7v1h-7zM1248 636h5v1h-5zM1281 636h1v1h-1zM1295 636h2v1h-2zM1312 636h2v1h-2zM1136 636h1v2h-1zM1214 636h1v2h-1zM93 637h3v1h-3zM326 637h2v1h-2zM334 637h2v1h-2zM365 637h4v1h-4zM699 637h1v1h-1zM1021 637h3v1h-3zM1182 637h1v1h-1zM1242 637h6v1h-6zM1282 637h1v1h-1zM1293 637h2v1h-2zM1314 637h3v1h-3zM88 638h5v1h-5zM328 638h2v1h-2zM332 638h2v1h-2zM369 638h3v1h-3zM698 638h1v1h-1zM700 638h1v1h-1zM1019 638h2v1h-2zM1155 638h1v1h-1zM1181 638h1v1h-1zM1215 638h1v1h-1zM1238 638h4v1h-4zM1283 638h10v1h-10zM1317 638h4v1h-4zM1137 638h1v2h-1zM26 639h10v1h-10zM82 639h6v1h-6zM330 639h2v1h-2zM372 639h1v1h-1zM697 639h1v1h-1zM701 639h1v1h-1zM1017 639h2v1h-2zM1153 639h2v1h-2zM1156 639h1v1h-1zM1235 639h3v1h-3zM1321 639h4v1h-4zM1180 639h1v2h-1zM1216 639h1v2h-1zM24 640h2v1h-2zM36 640h2v1h-2zM78 640h4v1h-4zM373 640h2v1h-2zM696 640h1v1h-1zM702 640h1v1h-1zM1015 640h2v1h-2zM1152 640h1v1h-1zM1157 640h1v1h-1zM1234 640h1v1h-1zM1325 640h4v1h-4zM1138 640h1v2h-1zM21 641h3v1h-3zM38 641h2v1h-2zM75 641h3v1h-3zM375 641h1v1h-1zM1013 641h2v1h-2zM1150 641h2v1h-2zM1158 641h1v1h-1zM1179 641h1v1h-1zM1232 641h2v1h-2zM1329 641h3v1h-3zM695 641h1v2h-1zM703 641h1v2h-1zM1217 641h1v2h-1zM16 642h5v1h-5zM40 642h2v1h-2zM48 642h12v1h-12zM74 642h1v1h-1zM376 642h1v1h-1zM680 642h4v1h-4zM986 642h5v1h-5zM1008 642h5v1h-5zM1148 642h2v1h-2zM1159 642h1v1h-1zM1178 642h1v1h-1zM1231 642h1v1h-1zM1139 642h1v2h-1zM3 643h13v1h-13zM42 643h6v1h-6zM60 643h2v1h-2zM72 643h2v1h-2zM377 643h2v1h-2zM674 643h6v1h-6zM684 643h2v1h-2zM694 643h1v1h-1zM704 643h1v1h-1zM984 643h2v1h-2zM991 643h17v1h-17zM1140 643h8v1h-8zM1160 643h1v1h-1zM1176 643h2v1h-2zM1230 643h1v1h-1zM1218 643h1v2h-1zM62 644h1v1h-1zM71 644h1v1h-1zM379 644h1v1h-1zM595 644h12v1h-12zM672 644h2v1h-2zM686 644h2v1h-2zM693 644h1v1h-1zM705 644h1v1h-1zM981 644h3v1h-3zM1161 644h1v1h-1zM1175 644h1v1h-1zM1228 644h2v1h-2zM63 645h2v1h-2zM70 645h1v1h-1zM380 645h1v1h-1zM593 645h2v1h-2zM607 645h8v1h-8zM624 645h7v1h-7zM659 645h4v1h-4zM669 645h3v1h-3zM688 645h2v1h-2zM692 645h1v1h-1zM706 645h1v1h-1zM979 645h2v1h-2zM1162 645h1v1h-1zM1174 645h1v1h-1zM1219 645h9v1h-9zM65 646h2v1h-2zM68 646h2v1h-2zM381 646h1v1h-1zM466 646h10v1h-10zM592 646h1v1h-1zM615 646h9v1h-9zM631 646h5v1h-5zM658 646h1v1h-1zM663 646h6v1h-6zM690 646h2v1h-2zM707 646h1v1h-1zM977 646h2v1h-2zM1163 646h4v1h-4zM1172 646h2v1h-2zM67 647h1v1h-1zM382 647h1v1h-1zM464 647h2v1h-2zM476 647h2v1h-2zM491 647h1v1h-1zM515 647h1v1h-1zM590 647h2v1h-2zM656 647h2v1h-2zM708 647h2v1h-2zM976 647h1v1h-1zM1167 647h5v1h-5zM636 647h1v2h-1zM383 648h1v1h-1zM461 648h3v1h-3zM478 648h1v1h-1zM489 648h2v1h-2zM492 648h1v1h-1zM513 648h2v1h-2zM516 648h2v1h-2zM588 648h2v1h-2zM655 648h1v1h-1zM710 648h1v1h-1zM974 648h2v1h-2zM384 649h1v1h-1zM459 649h2v1h-2zM479 649h2v1h-2zM487 649h2v1h-2zM493 649h1v1h-1zM511 649h2v1h-2zM518 649h2v1h-2zM587 649h1v1h-1zM637 649h1v1h-1zM654 649h1v1h-1zM711 649h2v1h-2zM972 649h2v1h-2zM385 650h1v1h-1zM458 650h1v1h-1zM481 650h2v1h-2zM485 650h2v1h-2zM494 650h1v1h-1zM509 650h2v1h-2zM520 650h2v1h-2zM586 650h1v1h-1zM638 650h1v1h-1zM652 650h2v1h-2zM713 650h2v1h-2zM971 650h1v1h-1zM386 651h1v1h-1zM392 651h13v1h-13zM456 651h2v1h-2zM483 651h2v1h-2zM495 651h1v1h-1zM507 651h2v1h-2zM522 651h2v1h-2zM585 651h1v1h-1zM651 651h1v1h-1zM715 651h2v1h-2zM970 651h1v1h-1zM639 651h1v2h-1zM387 652h5v1h-5zM405 652h2v1h-2zM455 652h1v1h-1zM496 652h1v1h-1zM505 652h2v1h-2zM524 652h2v1h-2zM584 652h1v1h-1zM650 652h1v1h-1zM717 652h2v1h-2zM730 652h11v1h-11zM968 652h2v1h-2zM407 653h3v1h-3zM443 653h2v1h-2zM454 653h1v1h-1zM497 653h1v1h-1zM503 653h2v1h-2zM526 653h2v1h-2zM582 653h2v1h-2zM640 653h1v1h-1zM648 653h2v1h-2zM719 653h3v1h-3zM726 653h4v1h-4zM741 653h2v1h-2zM967 653h1v1h-1zM410 654h2v1h-2zM442 654h1v1h-1zM445 654h4v1h-4zM452 654h2v1h-2zM498 654h1v1h-1zM501 654h2v1h-2zM528 654h2v1h-2zM581 654h1v1h-1zM641 654h1v1h-1zM647 654h1v1h-1zM722 654h4v1h-4zM743 654h3v1h-3zM966 654h1v1h-1zM412 655h2v1h-2zM441 655h1v1h-1zM449 655h3v1h-3zM499 655h2v1h-2zM530 655h2v1h-2zM580 655h1v1h-1zM646 655h1v1h-1zM746 655h2v1h-2zM866 655h2v1h-2zM964 655h2v1h-2zM642 655h1v2h-1zM414 656h1v1h-1zM440 656h1v1h-1zM532 656h2v1h-2zM570 656h10v1h-10zM644 656h2v1h-2zM748 656h1v1h-1zM795 656h18v1h-18zM842 656h5v1h-5zM864 656h2v1h-2zM868 656h2v1h-2zM963 656h1v1h-1zM415 657h2v1h-2zM534 657h1v1h-1zM568 657h2v1h-2zM643 657h1v1h-1zM749 657h1v1h-1zM794 657h1v1h-1zM813 657h2v1h-2zM840 657h2v1h-2zM847 657h8v1h-8zM861 657h3v1h-3zM870 657h1v1h-1zM962 657h1v1h-1zM439 657h1v2h-1zM417 658h2v1h-2zM535 658h2v1h-2zM565 658h3v1h-3zM750 658h1v1h-1zM793 658h1v1h-1zM815 658h3v1h-3zM837 658h3v1h-3zM855 658h6v1h-6zM871 658h2v1h-2zM961 658h1v1h-1zM419 659h2v1h-2zM438 659h1v1h-1zM537 659h2v1h-2zM563 659h2v1h-2zM792 659h1v1h-1zM818 659h5v1h-5zM832 659h5v1h-5zM873 659h2v1h-2zM960 659h1v1h-1zM751 659h1v2h-1zM421 660h2v1h-2zM437 660h1v1h-1zM539 660h2v1h-2zM561 660h2v1h-2zM790 660h2v1h-2zM823 660h9v1h-9zM875 660h2v1h-2zM958 660h2v1h-2zM423 661h3v1h-3zM436 661h1v1h-1zM541 661h4v1h-4zM560 661h1v1h-1zM752 661h1v1h-1zM789 661h1v1h-1zM877 661h2v1h-2zM957 661h1v1h-1zM426 662h10v1h-10zM545 662h4v1h-4zM558 662h2v1h-2zM753 662h1v1h-1zM788 662h1v1h-1zM879 662h3v1h-3zM944 662h7v1h-7zM956 662h1v1h-1zM549 663h4v1h-4zM556 663h2v1h-2zM754 663h1v1h-1zM784 663h4v1h-4zM882 663h2v1h-2zM939 663h5v1h-5zM951 663h5v1h-5zM553 664h3v1h-3zM755 664h9v1h-9zM779 664h5v1h-5zM884 664h2v1h-2zM937 664h2v1h-2zM764 665h2v1h-2zM777 665h2v1h-2zM886 665h2v1h-2zM898 665h5v1h-5zM935 665h2v1h-2zM766 666h2v1h-2zM775 666h2v1h-2zM888 666h2v1h-2zM894 666h4v1h-4zM903 666h13v1h-13zM933 666h2v1h-2zM768 667h2v1h-2zM773 667h2v1h-2zM890 667h4v1h-4zM916 667h2v1h-2zM930 667h3v1h-3zM770 668h3v1h-3zM918 668h2v1h-2zM928 668h2v1h-2zM920 669h2v1h-2zM925 669h3v1h-3zM922 670h3v1h-3z" fill="#1e90ff" shape-rendering="crispEdges"/>
</g>
<text x="7" y="608" font-size="10" fill="#000" textLength="68.5" lengthAdjust="spacingAndGlyphs" stroke="#000" stroke-width="0.25">RSI(14) 56.7675</text>
<rect x="1684" y="597" width="2" height="1" fill="#000"/>
<rect x="1684" y="698" width="2" height="1" fill="#000"/>
<text x="1687" y="606" font-size="10" fill="#000" textLength="15.5" lengthAdjust="spacingAndGlyphs" stroke="#000" stroke-width="0.25">100</text>
<text x="1685.6" y="631" font-size="10" fill="#000" textLength="10.5" lengthAdjust="spacingAndGlyphs" stroke="#000" stroke-width="0.25">70</text>
<text x="1685.6" y="672" font-size="10" fill="#000" textLength="10.5" lengthAdjust="spacingAndGlyphs" stroke="#000" stroke-width="0.25">30</text>
<text x="1686.8" y="696" font-size="10" fill="#000" textLength="5.5" lengthAdjust="spacingAndGlyphs" stroke="#000" stroke-width="0.25">0</text>
<g clip-path="url(#cd)"><g shape-rendering="crispEdges">
<rect x="3" y="751" width="1" height="8" fill="#c0c0c0"/>
<rect x="11" y="750" width="1" height="9" fill="#c0c0c0"/>
<rect x="19" y="749" width="1" height="10" fill="#c0c0c0"/>
<rect x="27" y="746" width="1" height="13" fill="#c0c0c0"/>
<rect x="35" y="745" width="1" height="14" fill="#c0c0c0"/>
<rect x="43" y="746" width="1" height="13" fill="#c0c0c0"/>
<rect x="51" y="745" width="1" height="14" fill="#c0c0c0"/>
<rect x="59" y="746" width="1" height="13" fill="#c0c0c0"/>
<rect x="67" y="747" width="1" height="12" fill="#c0c0c0"/>
<rect x="75" y="745" width="1" height="14" fill="#c0c0c0"/>
<rect x="83" y="745" width="1" height="14" fill="#c0c0c0"/>
<rect x="91" y="742" width="1" height="17" fill="#c0c0c0"/>
<rect x="99" y="740" width="1" height="19" fill="#c0c0c0"/>
<rect x="107" y="737" width="1" height="22" fill="#c0c0c0"/>
<rect x="115" y="735" width="1" height="24" fill="#c0c0c0"/>
<rect x="123" y="730" width="1" height="29" fill="#c0c0c0"/>
<rect x="131" y="725" width="1" height="34" fill="#c0c0c0"/>
<rect x="139" y="717" width="1" height="42" fill="#c0c0c0"/>
<rect x="147" y="714" width="1" height="45" fill="#c0c0c0"/>
<rect x="155" y="710" width="1" height="49" fill="#c0c0c0"/>
<rect x="163" y="708" width="1" height="51" fill="#c0c0c0"/>
<rect x="171" y="708" width="1" height="51" fill="#c0c0c0"/>
<rect x="179" y="711" width="1" height="48" fill="#c0c0c0"/>
<rect x="187" y="711" width="1" height="48" fill="#c0c0c0"/>
<rect x="195" y="712" width="1" height="47" fill="#c0c0c0"/>
<rect x="203" y="714" width="1" height="45" fill="#c0c0c0"/>
<rect x="211" y="715" width="1" height="44" fill="#c0c0c0"/>
<rect x="219" y="715" width="1" height="44" fill="#c0c0c0"/>
<rect x="227" y="714" width="1" height="45" fill="#c0c0c0"/>
<rect x="235" y="711" width="1" height="48" fill="#c0c0c0"/>
<rect x="243" y="710" width="1" height="49" fill="#c0c0c0"/>
<rect x="251" y="709" width="1" height="50" fill="#c0c0c0"/>
<rect x="259" y="711" width="1" height="48" fill="#c0c0c0"/>
<rect x="267" y="714" width="1" height="45" fill="#c0c0c0"/>
<rect x="275" y="717" width="1" height="42" fill="#c0c0c0"/>
<rect x="283" y="719" width="1" height="40" fill="#c0c0c0"/>
<rect x="291" y="722" width="1" height="37" fill="#c0c0c0"/>
<rect x="299" y="723" width="1" height="36" fill="#c0c0c0"/>
<rect x="307" y="723" width="1" height="36" fill="#c0c0c0"/>
<rect x="315" y="720" width="1" height="39" fill="#c0c0c0"/>
<rect x="323" y="722" width="1" height="37" fill="#c0c0c0"/>
<rect x="331" y="724" width="1" height="35" fill="#c0c0c0"/>
<rect x="339" y="724" width="1" height="35" fill="#c0c0c0"/>
<rect x="347" y="724" width="1" height="35" fill="#c0c0c0"/>
<rect x="355" y="724" width="1" height="35" fill="#c0c0c0"/>
<rect x="363" y="726" width="1" height="33" fill="#c0c0c0"/>
<rect x="371" y="728" width="1" height="31" fill="#c0c0c0"/>
<rect x="379" y="731" width="1" height="28" fill="#c0c0c0"/>
<rect x="387" y="738" width="1" height="21" fill="#c0c0c0"/>
<rect x="395" y="742" width="1" height="17" fill="#c0c0c0"/>
<rect x="403" y="746" width="1" height="13" fill="#c0c0c0"/>
<rect x="411" y="750" width="1" height="9" fill="#c0c0c0"/>
<rect x="419" y="756" width="1" height="3" fill="#c0c0c0"/>
<rect x="435" y="758" width="1" height="6" fill="#c0c0c0"/>
<rect x="443" y="758" width="1" height="6" fill="#c0c0c0"/>
<rect x="451" y="758" width="1" height="8" fill="#c0c0c0"/>
<rect x="459" y="758" width="1" height="7" fill="#c0c0c0"/>
<rect x="467" y="758" width="1" height="5" fill="#c0c0c0"/>
<rect x="475" y="758" width="1" height="3" fill="#c0c0c0"/>
<rect x="483" y="758" width="1" height="4" fill="#c0c0c0"/>
<rect x="491" y="758" width="1" height="3" fill="#c0c0c0"/>
<rect x="499" y="758" width="1" height="5" fill="#c0c0c0"/>
<rect x="507" y="758" width="1" height="5" fill="#c0c0c0"/>
<rect x="515" y="758" width="1" height="5" fill="#c0c0c0"/>
<rect x="523" y="758" width="1" height="5" fill="#c0c0c0"/>
<rect x="531" y="758" width="1" height="5" fill="#c0c0c0"/>
<rect x="539" y="758" width="1" height="11" fill="#c0c0c0"/>
<rect x="547" y="758" width="1" height="15" fill="#c0c0c0"/>
<rect x="555" y="758" width="1" height="20" fill="#c0c0c0"/>
<rect x="563" y="758" width="1" height="21" fill="#c0c0c0"/>
<rect x="571" y="758" width="1" height="21" fill="#c0c0c0"/>
<rect x="579" y="758" width="1" height="20" fill="#c0c0c0"/>
<rect x="587" y="758" width="1" height="16" fill="#c0c0c0"/>
<rect x="595" y="758" width="1" height="12" fill="#c0c0c0"/>
<rect x="603" y="758" width="1" height="10" fill="#c0c0c0"/>
<rect x="611" y="758" width="1" height="7" fill="#c0c0c0"/>
<rect x="619" y="758" width="1" height="6" fill="#c0c0c0"/>
<rect x="627" y="758" width="1" height="4" fill="#c0c0c0"/>
<rect x="635" y="758" width="1" height="2" fill="#c0c0c0"/>
<rect x="643" y="758" width="1" height="6" fill="#c0c0c0"/>
<rect x="651" y="758" width="1" height="6" fill="#c0c0c0"/>
<rect x="659" y="758" width="1" height="4" fill="#c0c0c0"/>
<rect x="667" y="758" width="1" height="3" fill="#c0c0c0"/>
<rect x="675" y="758" width="1" height="2" fill="#c0c0c0"/>
<rect x="683" y="757" width="1" height="2" fill="#c0c0c0"/>
<rect x="691" y="757" width="1" height="2" fill="#c0c0c0"/>
<rect x="699" y="752" width="1" height="7" fill="#c0c0c0"/>
<rect x="707" y="752" width="1" height="7" fill="#c0c0c0"/>
<rect x="715" y="755" width="1" height="4" fill="#c0c0c0"/>
<rect x="731" y="758" width="1" height="2" fill="#c0c0c0"/>
<rect x="739" y="758" width="1" height="3" fill="#c0c0c0"/>
<rect x="747" y="758" width="1" height="6" fill="#c0c0c0"/>
<rect x="755" y="758" width="1" height="14" fill="#c0c0c0"/>
<rect x="763" y="758" width="1" height="20" fill="#c0c0c0"/>
<rect x="771" y="758" width="1" height="27" fill="#c0c0c0"/>
<rect x="779" y="758" width="1" height="31" fill="#c0c0c0"/>
<rect x="787" y="758" width="1" height="33" fill="#c0c0c0"/>
<rect x="795" y="758" width="1" height="32" fill="#c0c0c0"/>
<rect x="803" y="758" width="1" height="31" fill="#c0c0c0"/>
<rect x="811" y="758" width="1" height="30" fill="#c0c0c0"/>
<rect x="819" y="758" width="1" height="30" fill="#c0c0c0"/>
<rect x="827" y="758" width="1" height="29" fill="#c0c0c0"/>
<rect x="835" y="758" width="1" height="29" fill="#c0c0c0"/>
<rect x="843" y="758" width="1" height="29" fill="#c0c0c0"/>
<rect x="851" y="758" width="1" height="28" fill="#c0c0c0"/>
<rect x="859" y="758" width="1" height="27" fill="#c0c0c0"/>
<rect x="867" y="758" width="1" height="25" fill="#c0c0c0"/>
<rect x="875" y="758" width="1" height="26" fill="#c0c0c0"/>
<rect x="883" y="758" width="1" height="28" fill="#c0c0c0"/>
<rect x="891" y="758" width="1" height="32" fill="#c0c0c0"/>
<rect x="899" y="758" width="1" height="34" fill="#c0c0c0"/>
<rect x="907" y="758" width="1" height="36" fill="#c0c0c0"/>
<rect x="915" y="758" width="1" height="36" fill="#c0c0c0"/>
<rect x="923" y="758" width="1" height="40" fill="#c0c0c0"/>
<rect x="931" y="758" width="1" height="40" fill="#c0c0c0"/>
<rect x="939" y="758" width="1" height="40" fill="#c0c0c0"/>
<rect x="947" y="758" width="1" height="38" fill="#c0c0c0"/>
<rect x="955" y="758" width="1" height="38" fill="#c0c0c0"/>
<rect x="963" y="758" width="1" height="34" fill="#c0c0c0"/>
<rect x="971" y="758" width="1" height="29" fill="#c0c0c0"/>
<rect x="979" y="758" width="1" height="23" fill="#c0c0c0"/>
<rect x="987" y="758" width="1" height="18" fill="#c0c0c0"/>
<rect x="995" y="758" width="1" height="12" fill="#c0c0c0"/>
<rect x="1003" y="758" width="1" height="9" fill="#c0c0c0"/>
<rect x="1011" y="758" width="1" height="5" fill="#c0c0c0"/>
<rect x="1019" y="758" width="1" height="2" fill="#c0c0c0"/>
<rect x="1027" y="756" width="1" height="3" fill="#c0c0c0"/>
<rect x="1035" y="753" width="1" height="6" fill="#c0c0c0"/>
<rect x="1043" y="750" width="1" height="9" fill="#c0c0c0"/>
<rect x="1051" y="747" width="1" height="12" fill="#c0c0c0"/>
<rect x="1059" y="743" width="1" height="16" fill="#c0c0c0"/>
<rect x="1067" y="739" width="1" height="20" fill="#c0c0c0"/>
<rect x="1075" y="737" width="1" height="22" fill="#c0c0c0"/>
<rect x="1083" y="737" width="1" height="22" fill="#c0c0c0"/>
<rect x="1091" y="734" width="1" height="25" fill="#c0c0c0"/>
<rect x="1099" y="731" width="1" height="28" fill="#c0c0c0"/>
<rect x="1107" y="729" width="1" height="30" fill="#c0c0c0"/>
<rect x="1115" y="729" width="1" height="30" fill="#c0c0c0"/>
<rect x="1123" y="728" width="1" height="31" fill="#c0c0c0"/>
<rect x="1131" y="726" width="1" height="33" fill="#c0c0c0"/>
<rect x="1139" y="730" width="1" height="29" fill="#c0c0c0"/>
<rect x="1147" y="733" width="1" height="26" fill="#c0c0c0"/>
<rect x="1155" y="734" width="1" height="25" fill="#c0c0c0"/>
<rect x="1163" y="737" width="1" height="22" fill="#c0c0c0"/>
<rect x="1171" y="741" width="1" height="18" fill="#c0c0c0"/>
<rect x="1179" y="741" width="1" height="18" fill="#c0c0c0"/>
<rect x="1187" y="737" width="1" height="22" fill="#c0c0c0"/>
<rect x="1195" y="733" width="1" height="26" fill="#c0c0c0"/>
<rect x="1203" y="731" width="1" height="28" fill="#c0c0c0"/>
<rect x="1211" y="729" width="1" height="30" fill="#c0c0c0"/>
<rect x="1219" y="732" width="1" height="27" fill="#c0c0c0"/>
<rect x="1227" y="736" width="1" height="23" fill="#c0c0c0"/>
<rect x="1235" y="734" width="1" height="25" fill="#c0c0c0"/>
<rect x="1243" y="735" width="1" height="24" fill="#c0c0c0"/>
<rect x="1251" y="733" width="1" height="26" fill="#c0c0c0"/>
<rect x="1259" y="732" width="1" height="27" fill="#c0c0c0"/>
<rect x="1267" y="730" width="1" height="29" fill="#c0c0c0"/>
<rect x="1275" y="728" width="1" height="31" fill="#c0c0c0"/>
<rect x="1283" y="729" width="1" height="30" fill="#c0c0c0"/>
<rect x="1291" y="730" width="1" height="29" fill="#c0c0c0"/>
<rect x="1299" y="730" width="1" height="29" fill="#c0c0c0"/>
<rect x="1307" y="730" width="1" height="29" fill="#c0c0c0"/>
<rect x="1315" y="730" width="1" height="29" fill="#c0c0c0"/>
<rect x="1323" y="731" width="1" height="28" fill="#c0c0c0"/>
<rect x="1331" y="734" width="1" height="25" fill="#c0c0c0"/>
<path d="M202 710h2v1h-2zM207 710h3v1h-3zM213 710h2v1h-2zM201 711h1v1h-1zM215 711h1v1h-1zM219 711h3v1h-3zM225 711h3v1h-3zM231 711h3v1h-3zM237 711h3v1h-3zM243 711h3v1h-3zM249 711h3v1h-3zM255 711h3v1h-3zM261 711h2v1h-2zM195 712h3v1h-3zM263 712h1v1h-1zM267 712h3v1h-3zM273 712h3v1h-3zM279 712h3v1h-3zM285 712h2v1h-2zM190 713h2v1h-2zM287 713h1v1h-1zM291 713h3v1h-3zM189 714h1v1h-1zM297 714h3v1h-3zM183 715h3v1h-3zM303 715h2v1h-2zM179 716h1v1h-1zM305 716h1v1h-1zM309 716h3v1h-3zM315 716h2v1h-2zM177 717h2v1h-2zM317 717h1v1h-1zM321 718h1v1h-1zM173 719h1v1h-1zM322 719h2v1h-2zM327 719h3v1h-3zM333 719h2v1h-2zM171 720h2v1h-2zM335 720h1v1h-1zM339 720h3v1h-3zM345 721h3v1h-3zM167 722h1v1h-1zM351 722h3v1h-3zM357 722h2v1h-2zM165 723h2v1h-2zM359 723h1v1h-1zM363 723h3v1h-3zM369 723h3v1h-3zM375 724h2v1h-2zM160 725h2v1h-2zM377 725h1v1h-1zM381 725h2v1h-2zM159 726h1v1h-1zM383 726h1v1h-1zM387 726h2v1h-2zM155 727h1v1h-1zM389 727h1v1h-1zM153 728h2v1h-2zM393 728h3v1h-3zM399 729h2v1h-2zM1155 729h3v1h-3zM1323 729h3v1h-3zM1329 729h3v1h-3zM149 730h1v1h-1zM401 730h1v1h-1zM1144 730h2v1h-2zM1149 730h3v1h-3zM1161 730h3v1h-3zM1305 730h3v1h-3zM1311 730h3v1h-3zM1317 730h3v1h-3zM147 731h2v1h-2zM405 731h2v1h-2zM1137 731h3v1h-3zM1143 731h1v1h-1zM1167 731h3v1h-3zM1173 731h2v1h-2zM1275 731h3v1h-3zM1281 731h3v1h-3zM1287 731h3v1h-3zM1293 731h3v1h-3zM1299 731h3v1h-3zM407 732h1v1h-1zM1131 732h3v1h-3zM1175 732h1v1h-1zM1179 732h3v1h-3zM1257 732h3v1h-3zM1263 732h3v1h-3zM1269 732h3v1h-3zM143 733h1v1h-1zM411 733h1v1h-1zM1125 733h3v1h-3zM1185 733h3v1h-3zM1245 733h3v1h-3zM1251 733h3v1h-3zM141 734h2v1h-2zM412 734h2v1h-2zM1120 734h2v1h-2zM1191 734h3v1h-3zM1197 734h2v1h-2zM1239 734h3v1h-3zM1119 735h1v1h-1zM1199 735h1v1h-1zM1203 735h3v1h-3zM1209 735h3v1h-3zM1215 735h3v1h-3zM1221 735h3v1h-3zM1227 735h3v1h-3zM1233 735h3v1h-3zM135 736h3v1h-3zM417 736h1v1h-1zM1114 736h2v1h-2zM130 737h2v1h-2zM418 737h2v1h-2zM1113 737h1v1h-1zM129 738h1v1h-1zM1109 738h1v1h-1zM125 739h1v1h-1zM423 739h1v1h-1zM1107 739h2v1h-2zM123 740h2v1h-2zM424 740h2v1h-2zM1102 740h2v1h-2zM112 741h2v1h-2zM117 741h3v1h-3zM1101 741h1v1h-1zM105 742h3v1h-3zM111 742h1v1h-1zM429 742h1v1h-1zM1095 742h3v1h-3zM99 743h3v1h-3zM430 743h1v1h-1zM1091 743h1v1h-1zM88 744h2v1h-2zM93 744h3v1h-3zM431 744h1v1h-1zM1089 744h2v1h-2zM75 745h3v1h-3zM81 745h3v1h-3zM87 745h1v1h-1zM64 746h2v1h-2zM69 746h3v1h-3zM435 746h1v1h-1zM1085 746h1v1h-1zM51 747h3v1h-3zM57 747h3v1h-3zM63 747h1v1h-1zM436 747h2v1h-2zM1083 747h2v1h-2zM40 748h2v1h-2zM45 748h3v1h-3zM33 749h3v1h-3zM39 749h1v1h-1zM441 749h1v1h-1zM1077 749h3v1h-3zM27 750h3v1h-3zM442 750h2v1h-2zM22 751h2v1h-2zM1073 751h1v1h-1zM16 752h2v1h-2zM21 752h1v1h-1zM447 752h3v1h-3zM1071 752h2v1h-2zM11 753h1v1h-1zM15 753h1v1h-1zM9 754h2v1h-2zM453 754h1v1h-1zM1066 754h2v1h-2zM454 755h2v1h-2zM1065 755h1v1h-1zM5 756h1v1h-1zM1061 756h1v1h-1zM3 757h2v1h-2zM459 757h2v1h-2zM723 757h3v1h-3zM729 757h3v1h-3zM735 757h3v1h-3zM741 757h3v1h-3zM747 757h2v1h-2zM1059 757h2v1h-2zM461 758h1v1h-1zM712 758h2v1h-2zM717 758h3v1h-3zM749 758h1v1h-1zM465 759h1v1h-1zM699 759h3v1h-3zM705 759h3v1h-3zM711 759h1v1h-1zM753 759h3v1h-3zM1055 759h1v1h-1zM466 760h2v1h-2zM688 760h2v1h-2zM693 760h3v1h-3zM759 760h2v1h-2zM1053 760h2v1h-2zM471 761h3v1h-3zM477 761h2v1h-2zM681 761h3v1h-3zM687 761h1v1h-1zM761 761h1v1h-1zM479 762h1v1h-1zM483 762h3v1h-3zM675 762h3v1h-3zM765 762h1v1h-1zM1049 762h1v1h-1zM489 763h3v1h-3zM495 763h3v1h-3zM501 763h3v1h-3zM507 763h3v1h-3zM513 763h3v1h-3zM519 763h3v1h-3zM525 763h3v1h-3zM531 763h2v1h-2zM664 763h2v1h-2zM669 763h3v1h-3zM766 763h2v1h-2zM1047 763h2v1h-2zM533 764h1v1h-1zM658 764h2v1h-2zM663 764h1v1h-1zM537 765h3v1h-3zM657 765h1v1h-1zM771 765h1v1h-1zM1042 765h2v1h-2zM543 766h3v1h-3zM651 766h3v1h-3zM772 766h2v1h-2zM1041 766h1v1h-1zM549 767h3v1h-3zM646 767h2v1h-2zM1037 767h1v1h-1zM555 768h3v1h-3zM640 768h2v1h-2zM645 768h1v1h-1zM777 768h1v1h-1zM1035 768h2v1h-2zM561 769h3v1h-3zM634 769h2v1h-2zM639 769h1v1h-1zM778 769h2v1h-2zM567 770h2v1h-2zM633 770h1v1h-1zM569 771h1v1h-1zM573 771h2v1h-2zM627 771h3v1h-3zM783 771h3v1h-3zM1031 771h1v1h-1zM575 772h1v1h-1zM579 772h3v1h-3zM622 772h2v1h-2zM1030 772h1v1h-1zM585 773h3v1h-3zM616 773h2v1h-2zM621 773h1v1h-1zM789 773h1v1h-1zM1029 773h1v1h-1zM591 774h3v1h-3zM597 774h3v1h-3zM603 774h3v1h-3zM609 774h3v1h-3zM615 774h1v1h-1zM790 774h1v1h-1zM791 775h1v1h-1zM1025 775h1v1h-1zM1023 776h2v1h-2zM795 777h2v1h-2zM797 778h1v1h-1zM1018 778h2v1h-2zM801 779h1v1h-1zM1017 779h1v1h-1zM802 780h2v1h-2zM1013 780h1v1h-1zM1011 781h2v1h-2zM807 782h3v1h-3zM813 784h3v1h-3zM1006 784h2v1h-2zM819 785h2v1h-2zM1005 785h1v1h-1zM821 786h1v1h-1zM825 787h3v1h-3zM867 787h3v1h-3zM873 787h3v1h-3zM879 787h3v1h-3zM885 787h3v1h-3zM891 787h3v1h-3zM897 787h3v1h-3zM903 787h3v1h-3zM909 787h2v1h-2zM1000 787h2v1h-2zM831 788h3v1h-3zM837 788h2v1h-2zM856 788h2v1h-2zM861 788h3v1h-3zM911 788h1v1h-1zM915 788h2v1h-2zM999 788h1v1h-1zM839 789h1v1h-1zM843 789h3v1h-3zM849 789h3v1h-3zM855 789h1v1h-1zM917 789h1v1h-1zM994 789h2v1h-2zM921 790h3v1h-3zM993 790h1v1h-1zM927 791h2v1h-2zM989 791h1v1h-1zM929 792h1v1h-1zM933 792h2v1h-2zM987 792h2v1h-2zM935 793h1v1h-1zM939 793h3v1h-3zM982 793h2v1h-2zM945 794h3v1h-3zM981 794h1v1h-1zM951 795h3v1h-3zM957 795h2v1h-2zM975 795h3v1h-3zM959 796h1v1h-1zM963 796h3v1h-3zM969 796h3v1h-3z" fill="#ff0000" shape-rendering="crispEdges"/>
</g></g>
<text x="7" y="713.5" font-size="10" fill="#000" textLength="148" lengthAdjust="spacingAndGlyphs" stroke="#000" stroke-width="0.25">MACD(12,26,9) 0.004259 0.004880</text>
<rect x="1684" y="703" width="2" height="1" fill="#000"/>
<rect x="1684" y="758" width="2" height="1" fill="#000"/>
<rect x="1684" y="803" width="2" height="1" fill="#000"/>
<text x="1687" y="712" font-size="10" fill="#000" textLength="38.5" lengthAdjust="spacingAndGlyphs" stroke="#000" stroke-width="0.25">0.009478</text>
<text x="1687" y="762" font-size="10" fill="#000" textLength="18.5" lengthAdjust="spacingAndGlyphs" stroke="#000" stroke-width="0.25">0.00</text>
<text x="1687" y="801" font-size="10" fill="#000" textLength="43" lengthAdjust="spacingAndGlyphs" stroke="#000" stroke-width="0.25">-0.007778</text>
<rect x="3" y="805" width="1" height="3" fill="#000"/>
<text x="2.2" y="817" font-size="10" fill="#000" textLength="54.2" lengthAdjust="spacingAndGlyphs" stroke="#000" stroke-width="0.25">13 Nov 2020</text>
<rect x="67" y="805" width="1" height="3" fill="#000"/>
<text x="66.2" y="817" font-size="10" fill="#000" textLength="54.7" lengthAdjust="spacingAndGlyphs" stroke="#000" stroke-width="0.25">23 Nov 2020</text>
<rect x="131" y="805" width="1" height="3" fill="#000"/>
<text x="130.2" y="817" font-size="10" fill="#000" textLength="47.7" lengthAdjust="spacingAndGlyphs" stroke="#000" stroke-width="0.25">2 Dec 2020</text>
<rect x="195" y="805" width="1" height="3" fill="#000"/>
<text x="194.2" y="817" font-size="10" fill="#000" textLength="52.800000000000004" lengthAdjust="spacingAndGlyphs" stroke="#000" stroke-width="0.25">11 Dec 2020</text>
<rect x="259" y="805" width="1" height="3" fill="#000"/>
<text x="258.2" y="817" font-size="10" fill="#000" textLength="52.7" lengthAdjust="spacingAndGlyphs" stroke="#000" stroke-width="0.25">21 Dec 2020</text>
<rect x="323" y="805" width="1" height="3" fill="#000"/>
<text x="322.2" y="817" font-size="10" fill="#000" textLength="51.900000000000006" lengthAdjust="spacingAndGlyphs" stroke="#000" stroke-width="0.25">31 Dec 2020</text>
<rect x="387" y="805" width="1" height="3" fill="#000"/>
<text x="386.2" y="817" font-size="10" fill="#000" textLength="50.5" lengthAdjust="spacingAndGlyphs" stroke="#000" stroke-width="0.25">11 Jan 2021</text>
<rect x="451" y="805" width="1" height="3" fill="#000"/>
<text x="450.2" y="817" font-size="10" fill="#000" textLength="50.0" lengthAdjust="spacingAndGlyphs" stroke="#000" stroke-width="0.25">20 Jan 2021</text>
<rect x="515" y="805" width="1" height="3" fill="#000"/>
<text x="514.2" y="817" font-size="10" fill="#000" textLength="50.5" lengthAdjust="spacingAndGlyphs" stroke="#000" stroke-width="0.25">29 Jan 2021</text>
<rect x="579" y="805" width="1" height="3" fill="#000"/>
<text x="578.2" y="817" font-size="10" fill="#000" textLength="47.300000000000004" lengthAdjust="spacingAndGlyphs" stroke="#000" stroke-width="0.25">8 Feb 2021</text>
<rect x="643" y="805" width="1" height="3" fill="#000"/>
<text x="642.2" y="817" font-size="10" fill="#000" textLength="52.300000000000004" lengthAdjust="spacingAndGlyphs" stroke="#000" stroke-width="0.25">17 Feb 2021</text>
<rect x="707" y="805" width="1" height="3" fill="#000"/>
<text x="706.2" y="817" font-size="10" fill="#000" textLength="52.400000000000006" lengthAdjust="spacingAndGlyphs" stroke="#000" stroke-width="0.25">26 Feb 2021</text>
<rect x="771" y="805" width="1" height="3" fill="#000"/>
<text x="770.2" y="817" font-size="10" fill="#000" textLength="47.300000000000004" lengthAdjust="spacingAndGlyphs" stroke="#000" stroke-width="0.25">8 Mar 2021</text>
<rect x="835" y="805" width="1" height="3" fill="#000"/>
<text x="834.2" y="817" font-size="10" fill="#000" textLength="52.400000000000006" lengthAdjust="spacingAndGlyphs" stroke="#000" stroke-width="0.25">17 Mar 2021</text>
<rect x="899" y="805" width="1" height="3" fill="#000"/>
<text x="898.2" y="817" font-size="10" fill="#000" textLength="52.400000000000006" lengthAdjust="spacingAndGlyphs" stroke="#000" stroke-width="0.25">26 Mar 2021</text>
<rect x="963" y="805" width="1" height="3" fill="#000"/>
<text x="962.2" y="817" font-size="10" fill="#000" textLength="46.800000000000004" lengthAdjust="spacingAndGlyphs" stroke="#000" stroke-width="0.25">5 Apr 2021</text>
<rect x="1027" y="805" width="1" height="3" fill="#000"/>
<text x="1026.2" y="817" font-size="10" fill="#000" textLength="52.400000000000006" lengthAdjust="spacingAndGlyphs" stroke="#000" stroke-width="0.25">14 Apr 2021</text>
<rect x="1091" y="805" width="1" height="3" fill="#000"/>
<text x="1090.2" y="817" font-size="10" fill="#000" textLength="52.400000000000006" lengthAdjust="spacingAndGlyphs" stroke="#000" stroke-width="0.25">23 Apr 2021</text>
<rect x="1155" y="805" width="1" height="3" fill="#000"/>
<text x="1154.2" y="817" font-size="10" fill="#000" textLength="50.7" lengthAdjust="spacingAndGlyphs" stroke="#000" stroke-width="0.25">3 May 2021</text>
<rect x="1219" y="805" width="1" height="3" fill="#000"/>
<text x="1218.2" y="817" font-size="10" fill="#000" textLength="55.900000000000006" lengthAdjust="spacingAndGlyphs" stroke="#000" stroke-width="0.25">12 May 2021</text>
<rect x="1283" y="805" width="1" height="3" fill="#000"/>
<text x="1282.2" y="817" font-size="10" fill="#000" textLength="55.900000000000006" lengthAdjust="spacingAndGlyphs" stroke="#000" stroke-width="0.25">21 May 2021</text>
<rect x="0" y="825" width="1727" height="1" fill="#e3e3e3"/>
<rect x="0" y="827" width="1727" height="1" fill="#000"/>
<rect x="0" y="829" width="1727" height="18" fill="#efefef"/>
<rect x="0" y="847" width="1727" height="2" fill="#ffffff"/>
<rect x="0" y="849" width="1727" height="2" fill="#f0f0f0"/>
<rect x="0" y="851" width="1727" height="1" fill="#a0a0a0"/>
<rect x="209" y="827" width="102" height="19" fill="#ffffff"/>
<rect x="208" y="827" width="1" height="19" fill="#000"/>
<rect x="311" y="827" width="1" height="19" fill="#000"/>
<rect x="208" y="845" width="104" height="1" fill="#000"/>
<text x="15" y="842" font-size="12.5" fill="#6a6a6a" textLength="78" lengthAdjust="spacingAndGlyphs">USDCHF,Daily</text>
<text x="114" y="842" font-size="12.5" fill="#6a6a6a" textLength="83" lengthAdjust="spacingAndGlyphs">USDCNH,Daily</text>
<text x="220" y="842" font-size="12.5" fill="#000" textLength="80" lengthAdjust="spacingAndGlyphs">EURUSD,Daily</text>
<text x="323" y="842" font-size="12.5" fill="#6a6a6a" textLength="82" lengthAdjust="spacingAndGlyphs">AUDUSD,Daily</text>
<text x="428" y="842" font-size="12.5" fill="#6a6a6a" textLength="80" lengthAdjust="spacingAndGlyphs">USDCAD,Daily</text>
<text x="531" y="842" font-size="12.5" fill="#6a6a6a" textLength="69" lengthAdjust="spacingAndGlyphs">XAUUSD,H1</text>
<text x="622" y="842" font-size="12.5" fill="#6a6a6a" textLength="51" lengthAdjust="spacingAndGlyphs">USOil,H4</text>
<rect x="104" y="832" width="1" height="11" fill="#808080"/>
<rect x="417" y="832" width="1" height="11" fill="#808080"/>
<rect x="521" y="832" width="1" height="11" fill="#808080"/>
<rect x="612" y="832" width="1" height="11" fill="#808080"/>
<rect x="685" y="832" width="1" height="11" fill="#808080"/>
<path d="M1702,832 L1702,840 L1698,836 Z" fill="#909090"/>
<path d="M1718,832 L1718,840 L1722,836 Z" fill="#909090"/>
</svg>
</body></html>
